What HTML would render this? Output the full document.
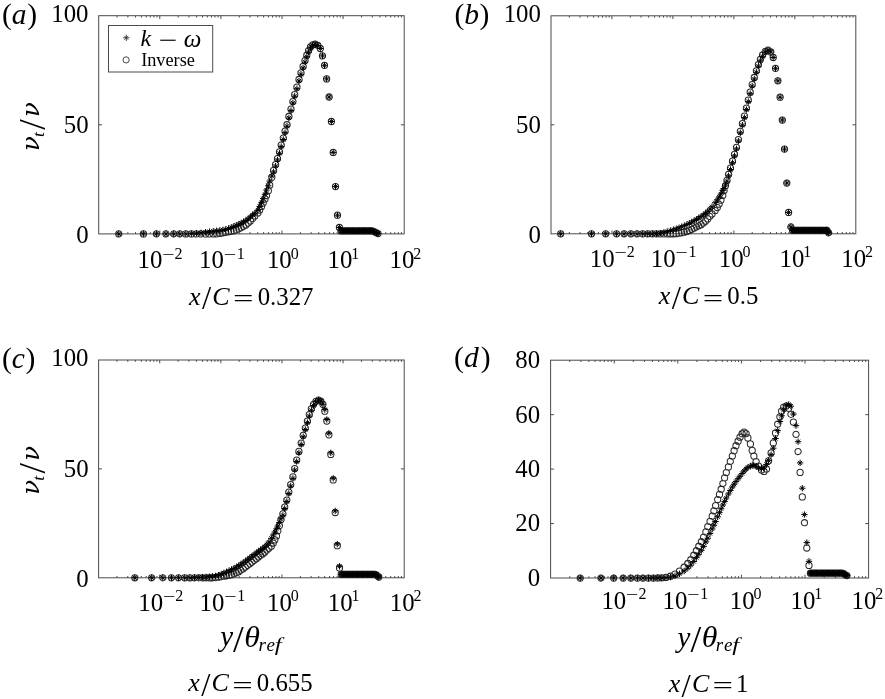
<!DOCTYPE html>
<html><head><meta charset="utf-8"><title>Eddy viscosity profiles</title>
<style>html,body{margin:0;padding:0;background:#fff;}svg{display:block;}text{font-family:'Liberation Serif', 'DejaVu Serif', serif;fill:#000;}</style>
</head><body>
<svg width="885" height="699" viewBox="0 0 885 699">
<rect width="885" height="699" fill="#fff"/>
<rect x="98.7" y="15.7" width="305.5" height="218.2" fill="none" stroke="#4a4a4a" stroke-width="1"/>
<path d="M117.09 233.9v-1.8M117.09 15.7v1.8M127.85 233.9v-1.8M127.85 15.7v1.8M135.49 233.9v-1.8M135.49 15.7v1.8M141.41 233.9v-1.8M141.41 15.7v1.8M146.25 233.9v-1.8M146.25 15.7v1.8M150.34 233.9v-1.8M150.34 15.7v1.8M153.88 233.9v-1.8M153.88 15.7v1.8M157 233.9v-1.8M157 15.7v1.8M159.8 233.9v-3.3M159.8 15.7v3.3M178.19 233.9v-1.8M178.19 15.7v1.8M188.95 233.9v-1.8M188.95 15.7v1.8M196.59 233.9v-1.8M196.59 15.7v1.8M202.51 233.9v-1.8M202.51 15.7v1.8M207.35 233.9v-1.8M207.35 15.7v1.8M211.44 233.9v-1.8M211.44 15.7v1.8M214.98 233.9v-1.8M214.98 15.7v1.8M218.1 233.9v-1.8M218.1 15.7v1.8M220.9 233.9v-3.3M220.9 15.7v3.3M239.29 233.9v-1.8M239.29 15.7v1.8M250.05 233.9v-1.8M250.05 15.7v1.8M257.69 233.9v-1.8M257.69 15.7v1.8M263.61 233.9v-1.8M263.61 15.7v1.8M268.45 233.9v-1.8M268.45 15.7v1.8M272.54 233.9v-1.8M272.54 15.7v1.8M276.08 233.9v-1.8M276.08 15.7v1.8M279.2 233.9v-1.8M279.2 15.7v1.8M282 233.9v-3.3M282 15.7v3.3M300.39 233.9v-1.8M300.39 15.7v1.8M311.15 233.9v-1.8M311.15 15.7v1.8M318.79 233.9v-1.8M318.79 15.7v1.8M324.71 233.9v-1.8M324.71 15.7v1.8M329.55 233.9v-1.8M329.55 15.7v1.8M333.64 233.9v-1.8M333.64 15.7v1.8M337.18 233.9v-1.8M337.18 15.7v1.8M340.3 233.9v-1.8M340.3 15.7v1.8M343.1 233.9v-3.3M343.1 15.7v3.3M361.49 233.9v-1.8M361.49 15.7v1.8M372.25 233.9v-1.8M372.25 15.7v1.8M379.89 233.9v-1.8M379.89 15.7v1.8M385.81 233.9v-1.8M385.81 15.7v1.8M390.65 233.9v-1.8M390.65 15.7v1.8M394.74 233.9v-1.8M394.74 15.7v1.8M398.28 233.9v-1.8M398.28 15.7v1.8M401.4 233.9v-1.8M401.4 15.7v1.8M98.7 124.8h3.3M404.2 124.8h-3.3" stroke="#4a4a4a" stroke-width="1" fill="none"/>
<rect x="551" y="15.8" width="304.8" height="218" fill="none" stroke="#4a4a4a" stroke-width="1"/>
<path d="M569.35 233.8v-1.8M569.35 15.8v1.8M580.09 233.8v-1.8M580.09 15.8v1.8M587.7 233.8v-1.8M587.7 15.8v1.8M593.61 233.8v-1.8M593.61 15.8v1.8M598.44 233.8v-1.8M598.44 15.8v1.8M602.52 233.8v-1.8M602.52 15.8v1.8M606.05 233.8v-1.8M606.05 15.8v1.8M609.17 233.8v-1.8M609.17 15.8v1.8M611.96 233.8v-3.3M611.96 15.8v3.3M630.31 233.8v-1.8M630.31 15.8v1.8M641.05 233.8v-1.8M641.05 15.8v1.8M648.66 233.8v-1.8M648.66 15.8v1.8M654.57 233.8v-1.8M654.57 15.8v1.8M659.4 233.8v-1.8M659.4 15.8v1.8M663.48 233.8v-1.8M663.48 15.8v1.8M667.01 233.8v-1.8M667.01 15.8v1.8M670.13 233.8v-1.8M670.13 15.8v1.8M672.92 233.8v-3.3M672.92 15.8v3.3M691.27 233.8v-1.8M691.27 15.8v1.8M702.01 233.8v-1.8M702.01 15.8v1.8M709.62 233.8v-1.8M709.62 15.8v1.8M715.53 233.8v-1.8M715.53 15.8v1.8M720.36 233.8v-1.8M720.36 15.8v1.8M724.44 233.8v-1.8M724.44 15.8v1.8M727.97 233.8v-1.8M727.97 15.8v1.8M731.09 233.8v-1.8M731.09 15.8v1.8M733.88 233.8v-3.3M733.88 15.8v3.3M752.23 233.8v-1.8M752.23 15.8v1.8M762.97 233.8v-1.8M762.97 15.8v1.8M770.58 233.8v-1.8M770.58 15.8v1.8M776.49 233.8v-1.8M776.49 15.8v1.8M781.32 233.8v-1.8M781.32 15.8v1.8M785.4 233.8v-1.8M785.4 15.8v1.8M788.93 233.8v-1.8M788.93 15.8v1.8M792.05 233.8v-1.8M792.05 15.8v1.8M794.84 233.8v-3.3M794.84 15.8v3.3M813.19 233.8v-1.8M813.19 15.8v1.8M823.93 233.8v-1.8M823.93 15.8v1.8M831.54 233.8v-1.8M831.54 15.8v1.8M837.45 233.8v-1.8M837.45 15.8v1.8M842.28 233.8v-1.8M842.28 15.8v1.8M846.36 233.8v-1.8M846.36 15.8v1.8M849.89 233.8v-1.8M849.89 15.8v1.8M853.01 233.8v-1.8M853.01 15.8v1.8M551 124.8h3.3M855.8 124.8h-3.3" stroke="#4a4a4a" stroke-width="1" fill="none"/>
<rect x="98.6" y="360" width="305.6" height="217.8" fill="none" stroke="#4a4a4a" stroke-width="1"/>
<path d="M117 577.8v-1.8M117 360v1.8M127.76 577.8v-1.8M127.76 360v1.8M135.4 577.8v-1.8M135.4 360v1.8M141.32 577.8v-1.8M141.32 360v1.8M146.16 577.8v-1.8M146.16 360v1.8M150.25 577.8v-1.8M150.25 360v1.8M153.8 577.8v-1.8M153.8 360v1.8M156.92 577.8v-1.8M156.92 360v1.8M159.72 577.8v-3.3M159.72 360v3.3M178.12 577.8v-1.8M178.12 360v1.8M188.88 577.8v-1.8M188.88 360v1.8M196.52 577.8v-1.8M196.52 360v1.8M202.44 577.8v-1.8M202.44 360v1.8M207.28 577.8v-1.8M207.28 360v1.8M211.37 577.8v-1.8M211.37 360v1.8M214.92 577.8v-1.8M214.92 360v1.8M218.04 577.8v-1.8M218.04 360v1.8M220.84 577.8v-3.3M220.84 360v3.3M239.24 577.8v-1.8M239.24 360v1.8M250 577.8v-1.8M250 360v1.8M257.64 577.8v-1.8M257.64 360v1.8M263.56 577.8v-1.8M263.56 360v1.8M268.4 577.8v-1.8M268.4 360v1.8M272.49 577.8v-1.8M272.49 360v1.8M276.04 577.8v-1.8M276.04 360v1.8M279.16 577.8v-1.8M279.16 360v1.8M281.96 577.8v-3.3M281.96 360v3.3M300.36 577.8v-1.8M300.36 360v1.8M311.12 577.8v-1.8M311.12 360v1.8M318.76 577.8v-1.8M318.76 360v1.8M324.68 577.8v-1.8M324.68 360v1.8M329.52 577.8v-1.8M329.52 360v1.8M333.61 577.8v-1.8M333.61 360v1.8M337.16 577.8v-1.8M337.16 360v1.8M340.28 577.8v-1.8M340.28 360v1.8M343.08 577.8v-3.3M343.08 360v3.3M361.48 577.8v-1.8M361.48 360v1.8M372.24 577.8v-1.8M372.24 360v1.8M379.88 577.8v-1.8M379.88 360v1.8M385.8 577.8v-1.8M385.8 360v1.8M390.64 577.8v-1.8M390.64 360v1.8M394.73 577.8v-1.8M394.73 360v1.8M398.28 577.8v-1.8M398.28 360v1.8M401.4 577.8v-1.8M401.4 360v1.8M98.6 468.9h3.3M404.2 468.9h-3.3" stroke="#4a4a4a" stroke-width="1" fill="none"/>
<rect x="550.6" y="360.2" width="318" height="217.8" fill="none" stroke="#4a4a4a" stroke-width="1"/>
<path d="M569.75 578v-1.8M569.75 360.2v1.8M580.94 578v-1.8M580.94 360.2v1.8M588.89 578v-1.8M588.89 360.2v1.8M595.05 578v-1.8M595.05 360.2v1.8M600.09 578v-1.8M600.09 360.2v1.8M604.35 578v-1.8M604.35 360.2v1.8M608.04 578v-1.8M608.04 360.2v1.8M611.29 578v-1.8M611.29 360.2v1.8M614.2 578v-3.3M614.2 360.2v3.3M633.35 578v-1.8M633.35 360.2v1.8M644.54 578v-1.8M644.54 360.2v1.8M652.49 578v-1.8M652.49 360.2v1.8M658.65 578v-1.8M658.65 360.2v1.8M663.69 578v-1.8M663.69 360.2v1.8M667.95 578v-1.8M667.95 360.2v1.8M671.64 578v-1.8M671.64 360.2v1.8M674.89 578v-1.8M674.89 360.2v1.8M677.8 578v-3.3M677.8 360.2v3.3M696.95 578v-1.8M696.95 360.2v1.8M708.14 578v-1.8M708.14 360.2v1.8M716.09 578v-1.8M716.09 360.2v1.8M722.25 578v-1.8M722.25 360.2v1.8M727.29 578v-1.8M727.29 360.2v1.8M731.55 578v-1.8M731.55 360.2v1.8M735.24 578v-1.8M735.24 360.2v1.8M738.49 578v-1.8M738.49 360.2v1.8M741.4 578v-3.3M741.4 360.2v3.3M760.55 578v-1.8M760.55 360.2v1.8M771.74 578v-1.8M771.74 360.2v1.8M779.69 578v-1.8M779.69 360.2v1.8M785.85 578v-1.8M785.85 360.2v1.8M790.89 578v-1.8M790.89 360.2v1.8M795.15 578v-1.8M795.15 360.2v1.8M798.84 578v-1.8M798.84 360.2v1.8M802.09 578v-1.8M802.09 360.2v1.8M805 578v-3.3M805 360.2v3.3M824.15 578v-1.8M824.15 360.2v1.8M835.34 578v-1.8M835.34 360.2v1.8M843.29 578v-1.8M843.29 360.2v1.8M849.45 578v-1.8M849.45 360.2v1.8M854.49 578v-1.8M854.49 360.2v1.8M858.75 578v-1.8M858.75 360.2v1.8M862.44 578v-1.8M862.44 360.2v1.8M865.69 578v-1.8M865.69 360.2v1.8M550.6 523.55h3.3M868.6 523.55h-3.3M550.6 469.1h3.3M868.6 469.1h-3.3M550.6 414.65h3.3M868.6 414.65h-3.3" stroke="#4a4a4a" stroke-width="1" fill="none"/>
<path d="M115.7 233.9a3.1 3.1 0 1 0 6.2 0a3.1 3.1 0 1 0 -6.2 0M140.3 233.9a3.1 3.1 0 1 0 6.2 0a3.1 3.1 0 1 0 -6.2 0M153.3 233.9a3.1 3.1 0 1 0 6.2 0a3.1 3.1 0 1 0 -6.2 0M162.9 233.9a3.1 3.1 0 1 0 6.2 0a3.1 3.1 0 1 0 -6.2 0M170.6 233.9a3.1 3.1 0 1 0 6.2 0a3.1 3.1 0 1 0 -6.2 0M176.7 233.9a3.1 3.1 0 1 0 6.2 0a3.1 3.1 0 1 0 -6.2 0M182.7 233.9a3.1 3.1 0 1 0 6.2 0a3.1 3.1 0 1 0 -6.2 0M188.3 233.9a3.1 3.1 0 1 0 6.2 0a3.1 3.1 0 1 0 -6.2 0M193.4 233.9a3.1 3.1 0 1 0 6.2 0a3.1 3.1 0 1 0 -6.2 0M197.9 233.9a3.1 3.1 0 1 0 6.2 0a3.1 3.1 0 1 0 -6.2 0M202.4 233.9a3.1 3.1 0 1 0 6.2 0a3.1 3.1 0 1 0 -6.2 0M206.43 233.9a3.1 3.1 0 1 0 6.2 0a3.1 3.1 0 1 0 -6.2 0M210.11 233.9a3.1 3.1 0 1 0 6.2 0a3.1 3.1 0 1 0 -6.2 0M213.52 233.82a3.1 3.1 0 1 0 6.2 0a3.1 3.1 0 1 0 -6.2 0M216.73 233.42a3.1 3.1 0 1 0 6.2 0a3.1 3.1 0 1 0 -6.2 0M219.76 232.99a3.1 3.1 0 1 0 6.2 0a3.1 3.1 0 1 0 -6.2 0M222.65 232.49a3.1 3.1 0 1 0 6.2 0a3.1 3.1 0 1 0 -6.2 0M225.43 231.98a3.1 3.1 0 1 0 6.2 0a3.1 3.1 0 1 0 -6.2 0M228.11 231.44a3.1 3.1 0 1 0 6.2 0a3.1 3.1 0 1 0 -6.2 0M230.71 230.77a3.1 3.1 0 1 0 6.2 0a3.1 3.1 0 1 0 -6.2 0M233.23 229.88a3.1 3.1 0 1 0 6.2 0a3.1 3.1 0 1 0 -6.2 0M235.69 228.88a3.1 3.1 0 1 0 6.2 0a3.1 3.1 0 1 0 -6.2 0M238.1 227.8a3.1 3.1 0 1 0 6.2 0a3.1 3.1 0 1 0 -6.2 0M240.46 226.56a3.1 3.1 0 1 0 6.2 0a3.1 3.1 0 1 0 -6.2 0M242.78 225.01a3.1 3.1 0 1 0 6.2 0a3.1 3.1 0 1 0 -6.2 0M245.06 223.13a3.1 3.1 0 1 0 6.2 0a3.1 3.1 0 1 0 -6.2 0M247.31 220.94a3.1 3.1 0 1 0 6.2 0a3.1 3.1 0 1 0 -6.2 0M249.53 218.6a3.1 3.1 0 1 0 6.2 0a3.1 3.1 0 1 0 -6.2 0M251.72 215.95a3.1 3.1 0 1 0 6.2 0a3.1 3.1 0 1 0 -6.2 0M254.8 213.18a3.1 3.1 0 1 0 6.2 0a3.1 3.1 0 1 0 -6.2 0M256.6 210.02a3.1 3.1 0 1 0 6.2 0a3.1 3.1 0 1 0 -6.2 0M258.4 206.41a3.1 3.1 0 1 0 6.2 0a3.1 3.1 0 1 0 -6.2 0M260.1 202.8a3.1 3.1 0 1 0 6.2 0a3.1 3.1 0 1 0 -6.2 0M261.9 198.94a3.1 3.1 0 1 0 6.2 0a3.1 3.1 0 1 0 -6.2 0M263.4 195.56a3.1 3.1 0 1 0 6.2 0a3.1 3.1 0 1 0 -6.2 0M265.2 190.66a3.1 3.1 0 1 0 6.2 0a3.1 3.1 0 1 0 -6.2 0M266.6 185.17a3.1 3.1 0 1 0 6.2 0a3.1 3.1 0 1 0 -6.2 0M268.7 177.13a3.1 3.1 0 1 0 6.2 0a3.1 3.1 0 1 0 -6.2 0M270.5 170.4a3.1 3.1 0 1 0 6.2 0a3.1 3.1 0 1 0 -6.2 0M272.5 164.6a3.1 3.1 0 1 0 6.2 0a3.1 3.1 0 1 0 -6.2 0M274.4 158.5a3.1 3.1 0 1 0 6.2 0a3.1 3.1 0 1 0 -6.2 0M276.4 151.8a3.1 3.1 0 1 0 6.2 0a3.1 3.1 0 1 0 -6.2 0M278.1 145.1a3.1 3.1 0 1 0 6.2 0a3.1 3.1 0 1 0 -6.2 0M280.2 138a3.1 3.1 0 1 0 6.2 0a3.1 3.1 0 1 0 -6.2 0M282 131.2a3.1 3.1 0 1 0 6.2 0a3.1 3.1 0 1 0 -6.2 0M283.9 124.7a3.1 3.1 0 1 0 6.2 0a3.1 3.1 0 1 0 -6.2 0M285.8 116.5a3.1 3.1 0 1 0 6.2 0a3.1 3.1 0 1 0 -6.2 0M287.9 109.1a3.1 3.1 0 1 0 6.2 0a3.1 3.1 0 1 0 -6.2 0M289.8 101.5a3.1 3.1 0 1 0 6.2 0a3.1 3.1 0 1 0 -6.2 0M291.6 94.7a3.1 3.1 0 1 0 6.2 0a3.1 3.1 0 1 0 -6.2 0M293.8 87.2a3.1 3.1 0 1 0 6.2 0a3.1 3.1 0 1 0 -6.2 0M295.9 79.5a3.1 3.1 0 1 0 6.2 0a3.1 3.1 0 1 0 -6.2 0M297.9 72.8a3.1 3.1 0 1 0 6.2 0a3.1 3.1 0 1 0 -6.2 0M300 66.4a3.1 3.1 0 1 0 6.2 0a3.1 3.1 0 1 0 -6.2 0M301.9 60.6a3.1 3.1 0 1 0 6.2 0a3.1 3.1 0 1 0 -6.2 0M303.7 55.2a3.1 3.1 0 1 0 6.2 0a3.1 3.1 0 1 0 -6.2 0M305.5 50.6a3.1 3.1 0 1 0 6.2 0a3.1 3.1 0 1 0 -6.2 0M307.4 47a3.1 3.1 0 1 0 6.2 0a3.1 3.1 0 1 0 -6.2 0M309.6 44.8a3.1 3.1 0 1 0 6.2 0a3.1 3.1 0 1 0 -6.2 0M312.1 44.2a3.1 3.1 0 1 0 6.2 0a3.1 3.1 0 1 0 -6.2 0M314.7 45.3a3.1 3.1 0 1 0 6.2 0a3.1 3.1 0 1 0 -6.2 0M317.2 48.5a3.1 3.1 0 1 0 6.2 0a3.1 3.1 0 1 0 -6.2 0M319.4 55.9a3.1 3.1 0 1 0 6.2 0a3.1 3.1 0 1 0 -6.2 0M321.4 65.3a3.1 3.1 0 1 0 6.2 0a3.1 3.1 0 1 0 -6.2 0M323.5 78.9a3.1 3.1 0 1 0 6.2 0a3.1 3.1 0 1 0 -6.2 0M326 97a3.1 3.1 0 1 0 6.2 0a3.1 3.1 0 1 0 -6.2 0M328.3 121.5a3.1 3.1 0 1 0 6.2 0a3.1 3.1 0 1 0 -6.2 0M330.1 152.4a3.1 3.1 0 1 0 6.2 0a3.1 3.1 0 1 0 -6.2 0M332.4 186.6a3.1 3.1 0 1 0 6.2 0a3.1 3.1 0 1 0 -6.2 0M334.4 215.2a3.1 3.1 0 1 0 6.2 0a3.1 3.1 0 1 0 -6.2 0M336.3 227.5a3.1 3.1 0 1 0 6.2 0a3.1 3.1 0 1 0 -6.2 0M337.9 230.9a3.1 3.1 0 1 0 6.2 0a3.1 3.1 0 1 0 -6.2 0M339.14 230.9a3.1 3.1 0 1 0 6.2 0a3.1 3.1 0 1 0 -6.2 0M340.38 230.9a3.1 3.1 0 1 0 6.2 0a3.1 3.1 0 1 0 -6.2 0M341.62 230.9a3.1 3.1 0 1 0 6.2 0a3.1 3.1 0 1 0 -6.2 0M342.86 230.9a3.1 3.1 0 1 0 6.2 0a3.1 3.1 0 1 0 -6.2 0M344.1 230.9a3.1 3.1 0 1 0 6.2 0a3.1 3.1 0 1 0 -6.2 0M345.34 230.9a3.1 3.1 0 1 0 6.2 0a3.1 3.1 0 1 0 -6.2 0M346.58 230.9a3.1 3.1 0 1 0 6.2 0a3.1 3.1 0 1 0 -6.2 0M347.82 230.9a3.1 3.1 0 1 0 6.2 0a3.1 3.1 0 1 0 -6.2 0M349.06 230.9a3.1 3.1 0 1 0 6.2 0a3.1 3.1 0 1 0 -6.2 0M350.3 230.9a3.1 3.1 0 1 0 6.2 0a3.1 3.1 0 1 0 -6.2 0M351.54 230.9a3.1 3.1 0 1 0 6.2 0a3.1 3.1 0 1 0 -6.2 0M352.78 230.9a3.1 3.1 0 1 0 6.2 0a3.1 3.1 0 1 0 -6.2 0M354.02 230.9a3.1 3.1 0 1 0 6.2 0a3.1 3.1 0 1 0 -6.2 0M355.26 230.9a3.1 3.1 0 1 0 6.2 0a3.1 3.1 0 1 0 -6.2 0M356.5 230.9a3.1 3.1 0 1 0 6.2 0a3.1 3.1 0 1 0 -6.2 0M357.74 230.9a3.1 3.1 0 1 0 6.2 0a3.1 3.1 0 1 0 -6.2 0M358.98 230.9a3.1 3.1 0 1 0 6.2 0a3.1 3.1 0 1 0 -6.2 0M360.22 230.9a3.1 3.1 0 1 0 6.2 0a3.1 3.1 0 1 0 -6.2 0M361.46 230.9a3.1 3.1 0 1 0 6.2 0a3.1 3.1 0 1 0 -6.2 0M362.7 230.9a3.1 3.1 0 1 0 6.2 0a3.1 3.1 0 1 0 -6.2 0M363.94 230.9a3.1 3.1 0 1 0 6.2 0a3.1 3.1 0 1 0 -6.2 0M365.18 230.9a3.1 3.1 0 1 0 6.2 0a3.1 3.1 0 1 0 -6.2 0M366.42 230.9a3.1 3.1 0 1 0 6.2 0a3.1 3.1 0 1 0 -6.2 0M367.66 230.9a3.1 3.1 0 1 0 6.2 0a3.1 3.1 0 1 0 -6.2 0M368.9 230.9a3.1 3.1 0 1 0 6.2 0a3.1 3.1 0 1 0 -6.2 0M370.4 231.3a3.1 3.1 0 1 0 6.2 0a3.1 3.1 0 1 0 -6.2 0M371.9 232a3.1 3.1 0 1 0 6.2 0a3.1 3.1 0 1 0 -6.2 0M373.4 232.8a3.1 3.1 0 1 0 6.2 0a3.1 3.1 0 1 0 -6.2 0M374.9 233.6a3.1 3.1 0 1 0 6.2 0a3.1 3.1 0 1 0 -6.2 0" fill="none" stroke="#2a2a2a" stroke-width="1.05"/>
<path d="M115.6 233.9h6.4M118.8 230.7v6.4M116.8 231.9l4 4M116.8 235.9l4 -4M140.2 233.9h6.4M143.4 230.7v6.4M141.4 231.9l4 4M141.4 235.9l4 -4M153.2 233.9h6.4M156.4 230.7v6.4M154.4 231.9l4 4M154.4 235.9l4 -4M162.8 233.9h6.4M166 230.7v6.4M164 231.9l4 4M164 235.9l4 -4M170.5 233.9h6.4M173.7 230.7v6.4M171.7 231.9l4 4M171.7 235.9l4 -4M176.6 233.9h6.4M179.8 230.7v6.4M177.8 231.9l4 4M177.8 235.9l4 -4M182.6 233.9h6.4M185.8 230.7v6.4M183.8 231.9l4 4M183.8 235.9l4 -4M188.2 233.68h6.4M191.4 230.48v6.4M189.4 231.68l4 4M189.4 235.68l4 -4M193.3 233.3h6.4M196.5 230.1v6.4M194.5 231.3l4 4M194.5 235.3l4 -4M197.8 232.9h6.4M201 229.7v6.4M199 230.9l4 4M199 234.9l4 -4M202.3 232.28h6.4M205.5 229.08v6.4M203.5 230.28l4 4M203.5 234.28l4 -4M206.33 231.66h6.4M209.53 228.46v6.4M207.53 229.66l4 4M207.53 233.66l4 -4M210.01 231.19h6.4M213.21 227.99v6.4M211.21 229.19l4 4M211.21 233.19l4 -4M213.42 230.76h6.4M216.62 227.56v6.4M214.62 228.76l4 4M214.62 232.76l4 -4M216.63 230.33h6.4M219.83 227.13v6.4M217.83 228.33l4 4M217.83 232.33l4 -4M219.66 229.89h6.4M222.86 226.69v6.4M220.86 227.89l4 4M220.86 231.89l4 -4M222.55 229.32h6.4M225.75 226.12v6.4M223.75 227.32l4 4M223.75 231.32l4 -4M225.33 228.46h6.4M228.53 225.26v6.4M226.53 226.46l4 4M226.53 230.46l4 -4M228.01 227.41h6.4M231.21 224.21v6.4M229.21 225.41l4 4M229.21 229.41l4 -4M230.61 226.31h6.4M233.81 223.11v6.4M231.81 224.31l4 4M231.81 228.31l4 -4M233.13 225.24h6.4M236.33 222.04v6.4M234.33 223.24l4 4M234.33 227.24l4 -4M235.59 224.18h6.4M238.79 220.98v6.4M236.79 222.18l4 4M236.79 226.18l4 -4M238 223.06h6.4M241.2 219.86v6.4M239.2 221.06l4 4M239.2 225.06l4 -4M240.36 221.83h6.4M243.56 218.63v6.4M241.56 219.83l4 4M241.56 223.83l4 -4M242.68 220.44h6.4M245.88 217.24v6.4M243.88 218.44l4 4M243.88 222.44l4 -4M244.96 218.74h6.4M248.16 215.54v6.4M246.16 216.74l4 4M246.16 220.74l4 -4M247.21 216.86h6.4M250.41 213.66v6.4M248.41 214.86l4 4M248.41 218.86l4 -4M249.43 214.98h6.4M252.63 211.78v6.4M250.63 212.98l4 4M250.63 216.98l4 -4M251.62 213.27h6.4M254.82 210.07v6.4M252.82 211.27l4 4M252.82 215.27l4 -4M254.7 210.1h6.4M257.9 206.9v6.4M255.9 208.1l4 4M255.9 212.1l4 -4M256.5 206.5h6.4M259.7 203.3v6.4M257.7 204.5l4 4M257.7 208.5l4 -4M258.3 202.6h6.4M261.5 199.4v6.4M259.5 200.6l4 4M259.5 204.6l4 -4M260 198.6h6.4M263.2 195.4v6.4M261.2 196.6l4 4M261.2 200.6l4 -4M261.8 194.3h6.4M265 191.1v6.4M263 192.3l4 4M263 196.3l4 -4M263.3 190.1h6.4M266.5 186.9v6.4M264.5 188.1l4 4M264.5 192.1l4 -4M265.1 185.8h6.4M268.3 182.6v6.4M266.3 183.8l4 4M266.3 187.8l4 -4M266.5 181.1h6.4M269.7 177.9v6.4M267.7 179.1l4 4M267.7 183.1l4 -4M268.6 176.1h6.4M271.8 172.9v6.4M269.8 174.1l4 4M269.8 178.1l4 -4M270.4 171.9h6.4M273.6 168.7v6.4M271.6 169.9l4 4M271.6 173.9l4 -4M272.4 166.1h6.4M275.6 162.9v6.4M273.6 164.1l4 4M273.6 168.1l4 -4M274.3 160h6.4M277.5 156.8v6.4M275.5 158l4 4M275.5 162l4 -4M276.3 153.3h6.4M279.5 150.1v6.4M277.5 151.3l4 4M277.5 155.3l4 -4M278 146.6h6.4M281.2 143.4v6.4M279.2 144.6l4 4M279.2 148.6l4 -4M280.1 139.5h6.4M283.3 136.3v6.4M281.3 137.5l4 4M281.3 141.5l4 -4M281.9 132.7h6.4M285.1 129.5v6.4M283.1 130.7l4 4M283.1 134.7l4 -4M283.8 126.2h6.4M287 123v6.4M285 124.2l4 4M285 128.2l4 -4M285.7 118h6.4M288.9 114.8v6.4M286.9 116l4 4M286.9 120l4 -4M287.8 110.6h6.4M291 107.4v6.4M289 108.6l4 4M289 112.6l4 -4M289.7 103h6.4M292.9 99.8v6.4M290.9 101l4 4M290.9 105l4 -4M291.5 96.2h6.4M294.7 93v6.4M292.7 94.2l4 4M292.7 98.2l4 -4M293.7 88.7h6.4M296.9 85.5v6.4M294.9 86.7l4 4M294.9 90.7l4 -4M295.8 81h6.4M299 77.8v6.4M297 79l4 4M297 83l4 -4M297.8 74.3h6.4M301 71.1v6.4M299 72.3l4 4M299 76.3l4 -4M299.9 67.9h6.4M303.1 64.7v6.4M301.1 65.9l4 4M301.1 69.9l4 -4M301.8 62.1h6.4M305 58.9v6.4M303 60.1l4 4M303 64.1l4 -4M303.6 56.7h6.4M306.8 53.5v6.4M304.8 54.7l4 4M304.8 58.7l4 -4M305.4 52.1h6.4M308.6 48.9v6.4M306.6 50.1l4 4M306.6 54.1l4 -4M307.3 48.17h6.4M310.5 44.97v6.4M308.5 46.17l4 4M308.5 50.17l4 -4M309.5 45.42h6.4M312.7 42.22v6.4M310.7 43.42l4 4M310.7 47.42l4 -4M312 44.2h6.4M315.2 41v6.4M313.2 42.2l4 4M313.2 46.2l4 -4M314.6 45.3h6.4M317.8 42.1v6.4M315.8 43.3l4 4M315.8 47.3l4 -4M317.1 48.5h6.4M320.3 45.3v6.4M318.3 46.5l4 4M318.3 50.5l4 -4M319.3 55.9h6.4M322.5 52.7v6.4M320.5 53.9l4 4M320.5 57.9l4 -4M321.3 65.3h6.4M324.5 62.1v6.4M322.5 63.3l4 4M322.5 67.3l4 -4M323.4 78.9h6.4M326.6 75.7v6.4M324.6 76.9l4 4M324.6 80.9l4 -4M325.9 97h6.4M329.1 93.8v6.4M327.1 95l4 4M327.1 99l4 -4M328.2 121.5h6.4M331.4 118.3v6.4M329.4 119.5l4 4M329.4 123.5l4 -4M330 152.4h6.4M333.2 149.2v6.4M331.2 150.4l4 4M331.2 154.4l4 -4M332.3 186.6h6.4M335.5 183.4v6.4M333.5 184.6l4 4M333.5 188.6l4 -4M334.3 215.2h6.4M337.5 212v6.4M335.5 213.2l4 4M335.5 217.2l4 -4M336.2 227.5h6.4M339.4 224.3v6.4M337.4 225.5l4 4M337.4 229.5l4 -4M337.8 230.9h6.4M341 227.7v6.4M339 228.9l4 4M339 232.9l4 -4M339.04 230.9h6.4M342.24 227.7v6.4M340.24 228.9l4 4M340.24 232.9l4 -4M340.28 230.9h6.4M343.48 227.7v6.4M341.48 228.9l4 4M341.48 232.9l4 -4M341.52 230.9h6.4M344.72 227.7v6.4M342.72 228.9l4 4M342.72 232.9l4 -4M342.76 230.9h6.4M345.96 227.7v6.4M343.96 228.9l4 4M343.96 232.9l4 -4M344 230.9h6.4M347.2 227.7v6.4M345.2 228.9l4 4M345.2 232.9l4 -4M345.24 230.9h6.4M348.44 227.7v6.4M346.44 228.9l4 4M346.44 232.9l4 -4M346.48 230.9h6.4M349.68 227.7v6.4M347.68 228.9l4 4M347.68 232.9l4 -4M347.72 230.9h6.4M350.92 227.7v6.4M348.92 228.9l4 4M348.92 232.9l4 -4M348.96 230.9h6.4M352.16 227.7v6.4M350.16 228.9l4 4M350.16 232.9l4 -4M350.2 230.9h6.4M353.4 227.7v6.4M351.4 228.9l4 4M351.4 232.9l4 -4M351.44 230.9h6.4M354.64 227.7v6.4M352.64 228.9l4 4M352.64 232.9l4 -4M352.68 230.9h6.4M355.88 227.7v6.4M353.88 228.9l4 4M353.88 232.9l4 -4M353.92 230.9h6.4M357.12 227.7v6.4M355.12 228.9l4 4M355.12 232.9l4 -4M355.16 230.9h6.4M358.36 227.7v6.4M356.36 228.9l4 4M356.36 232.9l4 -4M356.4 230.9h6.4M359.6 227.7v6.4M357.6 228.9l4 4M357.6 232.9l4 -4M357.64 230.9h6.4M360.84 227.7v6.4M358.84 228.9l4 4M358.84 232.9l4 -4M358.88 230.9h6.4M362.08 227.7v6.4M360.08 228.9l4 4M360.08 232.9l4 -4M360.12 230.9h6.4M363.32 227.7v6.4M361.32 228.9l4 4M361.32 232.9l4 -4M361.36 230.9h6.4M364.56 227.7v6.4M362.56 228.9l4 4M362.56 232.9l4 -4M362.6 230.9h6.4M365.8 227.7v6.4M363.8 228.9l4 4M363.8 232.9l4 -4M363.84 230.9h6.4M367.04 227.7v6.4M365.04 228.9l4 4M365.04 232.9l4 -4M365.08 230.9h6.4M368.28 227.7v6.4M366.28 228.9l4 4M366.28 232.9l4 -4M366.32 230.9h6.4M369.52 227.7v6.4M367.52 228.9l4 4M367.52 232.9l4 -4M367.56 230.9h6.4M370.76 227.7v6.4M368.76 228.9l4 4M368.76 232.9l4 -4M368.8 230.9h6.4M372 227.7v6.4M370 228.9l4 4M370 232.9l4 -4M370.3 231.3h6.4M373.5 228.1v6.4M371.5 229.3l4 4M371.5 233.3l4 -4M371.8 232h6.4M375 228.8v6.4M373 230l4 4M373 234l4 -4M373.3 232.8h6.4M376.5 229.6v6.4M374.5 230.8l4 4M374.5 234.8l4 -4M374.8 233.6h6.4M378 230.4v6.4M376 231.6l4 4M376 235.6l4 -4" fill="none" stroke="#000" stroke-width="1.0"/>
<path d="M557.6 233.8a3.1 3.1 0 1 0 6.2 0a3.1 3.1 0 1 0 -6.2 0M588.4 233.8a3.1 3.1 0 1 0 6.2 0a3.1 3.1 0 1 0 -6.2 0M602.6 233.8a3.1 3.1 0 1 0 6.2 0a3.1 3.1 0 1 0 -6.2 0M613.5 233.8a3.1 3.1 0 1 0 6.2 0a3.1 3.1 0 1 0 -6.2 0M621 233.8a3.1 3.1 0 1 0 6.2 0a3.1 3.1 0 1 0 -6.2 0M627.8 233.8a3.1 3.1 0 1 0 6.2 0a3.1 3.1 0 1 0 -6.2 0M634 233.8a3.1 3.1 0 1 0 6.2 0a3.1 3.1 0 1 0 -6.2 0M639.6 233.8a3.1 3.1 0 1 0 6.2 0a3.1 3.1 0 1 0 -6.2 0M644.6 233.8a3.1 3.1 0 1 0 6.2 0a3.1 3.1 0 1 0 -6.2 0M649.25 233.8a3.1 3.1 0 1 0 6.2 0a3.1 3.1 0 1 0 -6.2 0M653.42 233.8a3.1 3.1 0 1 0 6.2 0a3.1 3.1 0 1 0 -6.2 0M657.24 233.8a3.1 3.1 0 1 0 6.2 0a3.1 3.1 0 1 0 -6.2 0M660.79 233.8a3.1 3.1 0 1 0 6.2 0a3.1 3.1 0 1 0 -6.2 0M664.11 233.8a3.1 3.1 0 1 0 6.2 0a3.1 3.1 0 1 0 -6.2 0M667.26 233.8a3.1 3.1 0 1 0 6.2 0a3.1 3.1 0 1 0 -6.2 0M670.26 233.75a3.1 3.1 0 1 0 6.2 0a3.1 3.1 0 1 0 -6.2 0M673.14 233.64a3.1 3.1 0 1 0 6.2 0a3.1 3.1 0 1 0 -6.2 0M675.91 233.15a3.1 3.1 0 1 0 6.2 0a3.1 3.1 0 1 0 -6.2 0M678.59 232.63a3.1 3.1 0 1 0 6.2 0a3.1 3.1 0 1 0 -6.2 0M681.2 232.2a3.1 3.1 0 1 0 6.2 0a3.1 3.1 0 1 0 -6.2 0M683.74 231.46a3.1 3.1 0 1 0 6.2 0a3.1 3.1 0 1 0 -6.2 0M686.21 230.5a3.1 3.1 0 1 0 6.2 0a3.1 3.1 0 1 0 -6.2 0M688.64 229.3a3.1 3.1 0 1 0 6.2 0a3.1 3.1 0 1 0 -6.2 0M691.02 228.08a3.1 3.1 0 1 0 6.2 0a3.1 3.1 0 1 0 -6.2 0M693.36 226.87a3.1 3.1 0 1 0 6.2 0a3.1 3.1 0 1 0 -6.2 0M695.67 225.77a3.1 3.1 0 1 0 6.2 0a3.1 3.1 0 1 0 -6.2 0M697.94 224.67a3.1 3.1 0 1 0 6.2 0a3.1 3.1 0 1 0 -6.2 0M700.18 223.1a3.1 3.1 0 1 0 6.2 0a3.1 3.1 0 1 0 -6.2 0M702.4 221.13a3.1 3.1 0 1 0 6.2 0a3.1 3.1 0 1 0 -6.2 0M704.59 218.89a3.1 3.1 0 1 0 6.2 0a3.1 3.1 0 1 0 -6.2 0M706.76 216.45a3.1 3.1 0 1 0 6.2 0a3.1 3.1 0 1 0 -6.2 0M708.91 213.91a3.1 3.1 0 1 0 6.2 0a3.1 3.1 0 1 0 -6.2 0M712.1 210.5a3.1 3.1 0 1 0 6.2 0a3.1 3.1 0 1 0 -6.2 0M714.2 207.5a3.1 3.1 0 1 0 6.2 0a3.1 3.1 0 1 0 -6.2 0M716 204.2a3.1 3.1 0 1 0 6.2 0a3.1 3.1 0 1 0 -6.2 0M717.8 200.2a3.1 3.1 0 1 0 6.2 0a3.1 3.1 0 1 0 -6.2 0M719.6 195.4a3.1 3.1 0 1 0 6.2 0a3.1 3.1 0 1 0 -6.2 0M721 190.6a3.1 3.1 0 1 0 6.2 0a3.1 3.1 0 1 0 -6.2 0M722.4 185.5a3.1 3.1 0 1 0 6.2 0a3.1 3.1 0 1 0 -6.2 0M723.9 180.4a3.1 3.1 0 1 0 6.2 0a3.1 3.1 0 1 0 -6.2 0M725.5 174.3a3.1 3.1 0 1 0 6.2 0a3.1 3.1 0 1 0 -6.2 0M727.4 168a3.1 3.1 0 1 0 6.2 0a3.1 3.1 0 1 0 -6.2 0M729.4 161.2a3.1 3.1 0 1 0 6.2 0a3.1 3.1 0 1 0 -6.2 0M731.4 154.3a3.1 3.1 0 1 0 6.2 0a3.1 3.1 0 1 0 -6.2 0M733.4 147.4a3.1 3.1 0 1 0 6.2 0a3.1 3.1 0 1 0 -6.2 0M735.3 139.5a3.1 3.1 0 1 0 6.2 0a3.1 3.1 0 1 0 -6.2 0M737.2 131.3a3.1 3.1 0 1 0 6.2 0a3.1 3.1 0 1 0 -6.2 0M739.3 123.7a3.1 3.1 0 1 0 6.2 0a3.1 3.1 0 1 0 -6.2 0M741.3 116.1a3.1 3.1 0 1 0 6.2 0a3.1 3.1 0 1 0 -6.2 0M743.3 108a3.1 3.1 0 1 0 6.2 0a3.1 3.1 0 1 0 -6.2 0M745.2 100.1a3.1 3.1 0 1 0 6.2 0a3.1 3.1 0 1 0 -6.2 0M747.1 92.2a3.1 3.1 0 1 0 6.2 0a3.1 3.1 0 1 0 -6.2 0M749.1 84.6a3.1 3.1 0 1 0 6.2 0a3.1 3.1 0 1 0 -6.2 0M751.2 77.5a3.1 3.1 0 1 0 6.2 0a3.1 3.1 0 1 0 -6.2 0M753.3 70.8a3.1 3.1 0 1 0 6.2 0a3.1 3.1 0 1 0 -6.2 0M755.3 64.6a3.1 3.1 0 1 0 6.2 0a3.1 3.1 0 1 0 -6.2 0M757.3 59.3a3.1 3.1 0 1 0 6.2 0a3.1 3.1 0 1 0 -6.2 0M759.5 55a3.1 3.1 0 1 0 6.2 0a3.1 3.1 0 1 0 -6.2 0M762.1 51.5a3.1 3.1 0 1 0 6.2 0a3.1 3.1 0 1 0 -6.2 0M764.9 50.2a3.1 3.1 0 1 0 6.2 0a3.1 3.1 0 1 0 -6.2 0M767.7 52a3.1 3.1 0 1 0 6.2 0a3.1 3.1 0 1 0 -6.2 0M770.1 57.5a3.1 3.1 0 1 0 6.2 0a3.1 3.1 0 1 0 -6.2 0M772.4 68.3a3.1 3.1 0 1 0 6.2 0a3.1 3.1 0 1 0 -6.2 0M774.8 80.8a3.1 3.1 0 1 0 6.2 0a3.1 3.1 0 1 0 -6.2 0M777 97.2a3.1 3.1 0 1 0 6.2 0a3.1 3.1 0 1 0 -6.2 0M779.2 120a3.1 3.1 0 1 0 6.2 0a3.1 3.1 0 1 0 -6.2 0M781.4 149.1a3.1 3.1 0 1 0 6.2 0a3.1 3.1 0 1 0 -6.2 0M783.7 183a3.1 3.1 0 1 0 6.2 0a3.1 3.1 0 1 0 -6.2 0M785.5 212.4a3.1 3.1 0 1 0 6.2 0a3.1 3.1 0 1 0 -6.2 0M787.8 226.9a3.1 3.1 0 1 0 6.2 0a3.1 3.1 0 1 0 -6.2 0M789.5 230.4a3.1 3.1 0 1 0 6.2 0a3.1 3.1 0 1 0 -6.2 0M790.72 230.4a3.1 3.1 0 1 0 6.2 0a3.1 3.1 0 1 0 -6.2 0M791.94 230.4a3.1 3.1 0 1 0 6.2 0a3.1 3.1 0 1 0 -6.2 0M793.16 230.4a3.1 3.1 0 1 0 6.2 0a3.1 3.1 0 1 0 -6.2 0M794.37 230.4a3.1 3.1 0 1 0 6.2 0a3.1 3.1 0 1 0 -6.2 0M795.59 230.4a3.1 3.1 0 1 0 6.2 0a3.1 3.1 0 1 0 -6.2 0M796.81 230.4a3.1 3.1 0 1 0 6.2 0a3.1 3.1 0 1 0 -6.2 0M798.03 230.4a3.1 3.1 0 1 0 6.2 0a3.1 3.1 0 1 0 -6.2 0M799.25 230.4a3.1 3.1 0 1 0 6.2 0a3.1 3.1 0 1 0 -6.2 0M800.47 230.4a3.1 3.1 0 1 0 6.2 0a3.1 3.1 0 1 0 -6.2 0M801.69 230.4a3.1 3.1 0 1 0 6.2 0a3.1 3.1 0 1 0 -6.2 0M802.9 230.4a3.1 3.1 0 1 0 6.2 0a3.1 3.1 0 1 0 -6.2 0M804.12 230.4a3.1 3.1 0 1 0 6.2 0a3.1 3.1 0 1 0 -6.2 0M805.34 230.4a3.1 3.1 0 1 0 6.2 0a3.1 3.1 0 1 0 -6.2 0M806.56 230.4a3.1 3.1 0 1 0 6.2 0a3.1 3.1 0 1 0 -6.2 0M807.78 230.4a3.1 3.1 0 1 0 6.2 0a3.1 3.1 0 1 0 -6.2 0M809 230.4a3.1 3.1 0 1 0 6.2 0a3.1 3.1 0 1 0 -6.2 0M810.21 230.4a3.1 3.1 0 1 0 6.2 0a3.1 3.1 0 1 0 -6.2 0M811.43 230.4a3.1 3.1 0 1 0 6.2 0a3.1 3.1 0 1 0 -6.2 0M812.65 230.4a3.1 3.1 0 1 0 6.2 0a3.1 3.1 0 1 0 -6.2 0M813.87 230.4a3.1 3.1 0 1 0 6.2 0a3.1 3.1 0 1 0 -6.2 0M815.09 230.4a3.1 3.1 0 1 0 6.2 0a3.1 3.1 0 1 0 -6.2 0M816.31 230.4a3.1 3.1 0 1 0 6.2 0a3.1 3.1 0 1 0 -6.2 0M817.53 230.4a3.1 3.1 0 1 0 6.2 0a3.1 3.1 0 1 0 -6.2 0M818.74 230.4a3.1 3.1 0 1 0 6.2 0a3.1 3.1 0 1 0 -6.2 0M819.96 230.4a3.1 3.1 0 1 0 6.2 0a3.1 3.1 0 1 0 -6.2 0M821.18 230.4a3.1 3.1 0 1 0 6.2 0a3.1 3.1 0 1 0 -6.2 0M822.4 230.4a3.1 3.1 0 1 0 6.2 0a3.1 3.1 0 1 0 -6.2 0M823.5 230.2a3.1 3.1 0 1 0 6.2 0a3.1 3.1 0 1 0 -6.2 0M824.5 231.3a3.1 3.1 0 1 0 6.2 0a3.1 3.1 0 1 0 -6.2 0M825.6 232.8a3.1 3.1 0 1 0 6.2 0a3.1 3.1 0 1 0 -6.2 0" fill="none" stroke="#2a2a2a" stroke-width="1.05"/>
<path d="M557.5 233.8h6.4M560.7 230.6v6.4M558.7 231.8l4 4M558.7 235.8l4 -4M588.3 233.8h6.4M591.5 230.6v6.4M589.5 231.8l4 4M589.5 235.8l4 -4M602.5 233.8h6.4M605.7 230.6v6.4M603.7 231.8l4 4M603.7 235.8l4 -4M613.4 233.8h6.4M616.6 230.6v6.4M614.6 231.8l4 4M614.6 235.8l4 -4M620.9 233.8h6.4M624.1 230.6v6.4M622.1 231.8l4 4M622.1 235.8l4 -4M627.7 233.8h6.4M630.9 230.6v6.4M628.9 231.8l4 4M628.9 235.8l4 -4M633.9 233.8h6.4M637.1 230.6v6.4M635.1 231.8l4 4M635.1 235.8l4 -4M639.5 233.8h6.4M642.7 230.6v6.4M640.7 231.8l4 4M640.7 235.8l4 -4M644.5 233.8h6.4M647.7 230.6v6.4M645.7 231.8l4 4M645.7 235.8l4 -4M649.15 233.8h6.4M652.35 230.6v6.4M650.35 231.8l4 4M650.35 235.8l4 -4M653.32 233.72h6.4M656.52 230.52v6.4M654.52 231.72l4 4M654.52 235.72l4 -4M657.14 233.14h6.4M660.34 229.94v6.4M658.34 231.14l4 4M658.34 235.14l4 -4M660.69 232.39h6.4M663.89 229.19v6.4M661.89 230.39l4 4M661.89 234.39l4 -4M664.01 231.49h6.4M667.21 228.29v6.4M665.21 229.49l4 4M665.21 233.49l4 -4M667.16 230.6h6.4M670.36 227.4v6.4M668.36 228.6l4 4M668.36 232.6l4 -4M670.16 229.72h6.4M673.36 226.52v6.4M671.36 227.72l4 4M671.36 231.72l4 -4M673.04 228.82h6.4M676.24 225.62v6.4M674.24 226.82l4 4M674.24 230.82l4 -4M675.81 227.86h6.4M679.01 224.66v6.4M677.01 225.86l4 4M677.01 229.86l4 -4M678.49 226.84h6.4M681.69 223.64v6.4M679.69 224.84l4 4M679.69 228.84l4 -4M681.1 225.73h6.4M684.3 222.53v6.4M682.3 223.73l4 4M682.3 227.73l4 -4M683.64 224.56h6.4M686.84 221.36v6.4M684.84 222.56l4 4M684.84 226.56l4 -4M686.11 223.35h6.4M689.31 220.15v6.4M687.31 221.35l4 4M687.31 225.35l4 -4M688.54 222.09h6.4M691.74 218.89v6.4M689.74 220.09l4 4M689.74 224.09l4 -4M690.92 220.77h6.4M694.12 217.57v6.4M692.12 218.77l4 4M692.12 222.77l4 -4M693.26 219.39h6.4M696.46 216.19v6.4M694.46 217.39l4 4M694.46 221.39l4 -4M695.57 217.97h6.4M698.77 214.77v6.4M696.77 215.97l4 4M696.77 219.97l4 -4M697.84 216.55h6.4M701.04 213.35v6.4M699.04 214.55l4 4M699.04 218.55l4 -4M700.08 215.07h6.4M703.28 211.87v6.4M701.28 213.07l4 4M701.28 217.07l4 -4M702.3 213.39h6.4M705.5 210.19v6.4M703.5 211.39l4 4M703.5 215.39l4 -4M704.49 211.38h6.4M707.69 208.18v6.4M705.69 209.38l4 4M705.69 213.38l4 -4M706.66 209.15h6.4M709.86 205.95v6.4M707.86 207.15l4 4M707.86 211.15l4 -4M708.81 206.74h6.4M712.01 203.54v6.4M710.01 204.74l4 4M710.01 208.74l4 -4M712 202.74h6.4M715.2 199.54v6.4M713.2 200.74l4 4M713.2 204.74l4 -4M714.1 199.81h6.4M717.3 196.61v6.4M715.3 197.81l4 4M715.3 201.81l4 -4M715.9 197.04h6.4M719.1 193.84v6.4M717.1 195.04l4 4M717.1 199.04l4 -4M717.7 194h6.4M720.9 190.8v6.4M718.9 192l4 4M718.9 196l4 -4M719.5 190.41h6.4M722.7 187.21v6.4M720.7 188.41l4 4M720.7 192.41l4 -4M720.9 188.49h6.4M724.1 185.29v6.4M722.1 186.49l4 4M722.1 190.49l4 -4M722.3 185.11h6.4M725.5 181.91v6.4M723.5 183.11l4 4M723.5 187.11l4 -4M723.8 181.21h6.4M727 178.01v6.4M725 179.21l4 4M725 183.21l4 -4M725.4 175.8h6.4M728.6 172.6v6.4M726.6 173.8l4 4M726.6 177.8l4 -4M727.3 169.5h6.4M730.5 166.3v6.4M728.5 167.5l4 4M728.5 171.5l4 -4M729.3 162.7h6.4M732.5 159.5v6.4M730.5 160.7l4 4M730.5 164.7l4 -4M731.3 155.8h6.4M734.5 152.6v6.4M732.5 153.8l4 4M732.5 157.8l4 -4M733.3 148.9h6.4M736.5 145.7v6.4M734.5 146.9l4 4M734.5 150.9l4 -4M735.2 141h6.4M738.4 137.8v6.4M736.4 139l4 4M736.4 143l4 -4M737.1 132.8h6.4M740.3 129.6v6.4M738.3 130.8l4 4M738.3 134.8l4 -4M739.2 125.2h6.4M742.4 122v6.4M740.4 123.2l4 4M740.4 127.2l4 -4M741.2 117.6h6.4M744.4 114.4v6.4M742.4 115.6l4 4M742.4 119.6l4 -4M743.2 109.5h6.4M746.4 106.3v6.4M744.4 107.5l4 4M744.4 111.5l4 -4M745.1 101.6h6.4M748.3 98.4v6.4M746.3 99.6l4 4M746.3 103.6l4 -4M747 93.7h6.4M750.2 90.5v6.4M748.2 91.7l4 4M748.2 95.7l4 -4M749 86.1h6.4M752.2 82.9v6.4M750.2 84.1l4 4M750.2 88.1l4 -4M751.1 79h6.4M754.3 75.8v6.4M752.3 77l4 4M752.3 81l4 -4M753.2 72.3h6.4M756.4 69.1v6.4M754.4 70.3l4 4M754.4 74.3l4 -4M755.2 66.1h6.4M758.4 62.9v6.4M756.4 64.1l4 4M756.4 68.1l4 -4M757.2 60.8h6.4M760.4 57.6v6.4M758.4 58.8l4 4M758.4 62.8l4 -4M759.4 56.35h6.4M762.6 53.15v6.4M760.6 54.35l4 4M760.6 58.35l4 -4M762 52.2h6.4M765.2 49v6.4M763.2 50.2l4 4M763.2 54.2l4 -4M764.8 50.2h6.4M768 47v6.4M766 48.2l4 4M766 52.2l4 -4M767.6 52h6.4M770.8 48.8v6.4M768.8 50l4 4M768.8 54l4 -4M770 57.5h6.4M773.2 54.3v6.4M771.2 55.5l4 4M771.2 59.5l4 -4M772.3 68.3h6.4M775.5 65.1v6.4M773.5 66.3l4 4M773.5 70.3l4 -4M774.7 80.8h6.4M777.9 77.6v6.4M775.9 78.8l4 4M775.9 82.8l4 -4M776.9 97.2h6.4M780.1 94v6.4M778.1 95.2l4 4M778.1 99.2l4 -4M779.1 120h6.4M782.3 116.8v6.4M780.3 118l4 4M780.3 122l4 -4M781.3 149.1h6.4M784.5 145.9v6.4M782.5 147.1l4 4M782.5 151.1l4 -4M783.6 183h6.4M786.8 179.8v6.4M784.8 181l4 4M784.8 185l4 -4M785.4 212.4h6.4M788.6 209.2v6.4M786.6 210.4l4 4M786.6 214.4l4 -4M787.7 226.9h6.4M790.9 223.7v6.4M788.9 224.9l4 4M788.9 228.9l4 -4M789.4 230.4h6.4M792.6 227.2v6.4M790.6 228.4l4 4M790.6 232.4l4 -4M790.62 230.4h6.4M793.82 227.2v6.4M791.82 228.4l4 4M791.82 232.4l4 -4M791.84 230.4h6.4M795.04 227.2v6.4M793.04 228.4l4 4M793.04 232.4l4 -4M793.06 230.4h6.4M796.26 227.2v6.4M794.26 228.4l4 4M794.26 232.4l4 -4M794.27 230.4h6.4M797.47 227.2v6.4M795.47 228.4l4 4M795.47 232.4l4 -4M795.49 230.4h6.4M798.69 227.2v6.4M796.69 228.4l4 4M796.69 232.4l4 -4M796.71 230.4h6.4M799.91 227.2v6.4M797.91 228.4l4 4M797.91 232.4l4 -4M797.93 230.4h6.4M801.13 227.2v6.4M799.13 228.4l4 4M799.13 232.4l4 -4M799.15 230.4h6.4M802.35 227.2v6.4M800.35 228.4l4 4M800.35 232.4l4 -4M800.37 230.4h6.4M803.57 227.2v6.4M801.57 228.4l4 4M801.57 232.4l4 -4M801.59 230.4h6.4M804.79 227.2v6.4M802.79 228.4l4 4M802.79 232.4l4 -4M802.8 230.4h6.4M806 227.2v6.4M804 228.4l4 4M804 232.4l4 -4M804.02 230.4h6.4M807.22 227.2v6.4M805.22 228.4l4 4M805.22 232.4l4 -4M805.24 230.4h6.4M808.44 227.2v6.4M806.44 228.4l4 4M806.44 232.4l4 -4M806.46 230.4h6.4M809.66 227.2v6.4M807.66 228.4l4 4M807.66 232.4l4 -4M807.68 230.4h6.4M810.88 227.2v6.4M808.88 228.4l4 4M808.88 232.4l4 -4M808.9 230.4h6.4M812.1 227.2v6.4M810.1 228.4l4 4M810.1 232.4l4 -4M810.11 230.4h6.4M813.31 227.2v6.4M811.31 228.4l4 4M811.31 232.4l4 -4M811.33 230.4h6.4M814.53 227.2v6.4M812.53 228.4l4 4M812.53 232.4l4 -4M812.55 230.4h6.4M815.75 227.2v6.4M813.75 228.4l4 4M813.75 232.4l4 -4M813.77 230.4h6.4M816.97 227.2v6.4M814.97 228.4l4 4M814.97 232.4l4 -4M814.99 230.4h6.4M818.19 227.2v6.4M816.19 228.4l4 4M816.19 232.4l4 -4M816.21 230.4h6.4M819.41 227.2v6.4M817.41 228.4l4 4M817.41 232.4l4 -4M817.43 230.4h6.4M820.63 227.2v6.4M818.63 228.4l4 4M818.63 232.4l4 -4M818.64 230.4h6.4M821.84 227.2v6.4M819.84 228.4l4 4M819.84 232.4l4 -4M819.86 230.4h6.4M823.06 227.2v6.4M821.06 228.4l4 4M821.06 232.4l4 -4M821.08 230.4h6.4M824.28 227.2v6.4M822.28 228.4l4 4M822.28 232.4l4 -4M822.3 230.4h6.4M825.5 227.2v6.4M823.5 228.4l4 4M823.5 232.4l4 -4M823.4 230.2h6.4M826.6 227v6.4M824.6 228.2l4 4M824.6 232.2l4 -4M824.4 231.3h6.4M827.6 228.1v6.4M825.6 229.3l4 4M825.6 233.3l4 -4M825.5 232.8h6.4M828.7 229.6v6.4M826.7 230.8l4 4M826.7 234.8l4 -4" fill="none" stroke="#000" stroke-width="1.0"/>
<path d="M131.7 577.8a3.1 3.1 0 1 0 6.2 0a3.1 3.1 0 1 0 -6.2 0M148.6 577.8a3.1 3.1 0 1 0 6.2 0a3.1 3.1 0 1 0 -6.2 0M159.7 577.8a3.1 3.1 0 1 0 6.2 0a3.1 3.1 0 1 0 -6.2 0M168.4 577.8a3.1 3.1 0 1 0 6.2 0a3.1 3.1 0 1 0 -6.2 0M175.5 577.8a3.1 3.1 0 1 0 6.2 0a3.1 3.1 0 1 0 -6.2 0M181.6 577.8a3.1 3.1 0 1 0 6.2 0a3.1 3.1 0 1 0 -6.2 0M186.8 577.8a3.1 3.1 0 1 0 6.2 0a3.1 3.1 0 1 0 -6.2 0M191.45 577.8a3.1 3.1 0 1 0 6.2 0a3.1 3.1 0 1 0 -6.2 0M195.62 577.8a3.1 3.1 0 1 0 6.2 0a3.1 3.1 0 1 0 -6.2 0M199.44 577.8a3.1 3.1 0 1 0 6.2 0a3.1 3.1 0 1 0 -6.2 0M202.99 577.8a3.1 3.1 0 1 0 6.2 0a3.1 3.1 0 1 0 -6.2 0M206.31 577.8a3.1 3.1 0 1 0 6.2 0a3.1 3.1 0 1 0 -6.2 0M209.46 577.79a3.1 3.1 0 1 0 6.2 0a3.1 3.1 0 1 0 -6.2 0M212.46 577.57a3.1 3.1 0 1 0 6.2 0a3.1 3.1 0 1 0 -6.2 0M215.34 577.15a3.1 3.1 0 1 0 6.2 0a3.1 3.1 0 1 0 -6.2 0M218.11 576.66a3.1 3.1 0 1 0 6.2 0a3.1 3.1 0 1 0 -6.2 0M220.79 576.23a3.1 3.1 0 1 0 6.2 0a3.1 3.1 0 1 0 -6.2 0M223.4 575.82a3.1 3.1 0 1 0 6.2 0a3.1 3.1 0 1 0 -6.2 0M225.94 575.36a3.1 3.1 0 1 0 6.2 0a3.1 3.1 0 1 0 -6.2 0M228.41 574.74a3.1 3.1 0 1 0 6.2 0a3.1 3.1 0 1 0 -6.2 0M230.84 573.86a3.1 3.1 0 1 0 6.2 0a3.1 3.1 0 1 0 -6.2 0M233.22 572.83a3.1 3.1 0 1 0 6.2 0a3.1 3.1 0 1 0 -6.2 0M235.56 571.66a3.1 3.1 0 1 0 6.2 0a3.1 3.1 0 1 0 -6.2 0M237.87 570.3a3.1 3.1 0 1 0 6.2 0a3.1 3.1 0 1 0 -6.2 0M240.14 568.85a3.1 3.1 0 1 0 6.2 0a3.1 3.1 0 1 0 -6.2 0M242.38 567.22a3.1 3.1 0 1 0 6.2 0a3.1 3.1 0 1 0 -6.2 0M244.6 565.53a3.1 3.1 0 1 0 6.2 0a3.1 3.1 0 1 0 -6.2 0M246.79 563.87a3.1 3.1 0 1 0 6.2 0a3.1 3.1 0 1 0 -6.2 0M248.96 562.21a3.1 3.1 0 1 0 6.2 0a3.1 3.1 0 1 0 -6.2 0M251.11 560.51a3.1 3.1 0 1 0 6.2 0a3.1 3.1 0 1 0 -6.2 0M253.25 558.75a3.1 3.1 0 1 0 6.2 0a3.1 3.1 0 1 0 -6.2 0M255.37 556.91a3.1 3.1 0 1 0 6.2 0a3.1 3.1 0 1 0 -6.2 0M257.47 555.3a3.1 3.1 0 1 0 6.2 0a3.1 3.1 0 1 0 -6.2 0M259.57 553.88a3.1 3.1 0 1 0 6.2 0a3.1 3.1 0 1 0 -6.2 0M261.65 552.13a3.1 3.1 0 1 0 6.2 0a3.1 3.1 0 1 0 -6.2 0M263.72 550.12a3.1 3.1 0 1 0 6.2 0a3.1 3.1 0 1 0 -6.2 0M265.77 548.35a3.1 3.1 0 1 0 6.2 0a3.1 3.1 0 1 0 -6.2 0M268.2 546.2a3.1 3.1 0 1 0 6.2 0a3.1 3.1 0 1 0 -6.2 0M270.2 543a3.1 3.1 0 1 0 6.2 0a3.1 3.1 0 1 0 -6.2 0M271.8 539.8a3.1 3.1 0 1 0 6.2 0a3.1 3.1 0 1 0 -6.2 0M273.4 535.9a3.1 3.1 0 1 0 6.2 0a3.1 3.1 0 1 0 -6.2 0M274.7 530.8a3.1 3.1 0 1 0 6.2 0a3.1 3.1 0 1 0 -6.2 0M276.3 525.6a3.1 3.1 0 1 0 6.2 0a3.1 3.1 0 1 0 -6.2 0M277.9 519.5a3.1 3.1 0 1 0 6.2 0a3.1 3.1 0 1 0 -6.2 0M279.8 513.8a3.1 3.1 0 1 0 6.2 0a3.1 3.1 0 1 0 -6.2 0M281.6 507a3.1 3.1 0 1 0 6.2 0a3.1 3.1 0 1 0 -6.2 0M283.7 500a3.1 3.1 0 1 0 6.2 0a3.1 3.1 0 1 0 -6.2 0M285.7 492a3.1 3.1 0 1 0 6.2 0a3.1 3.1 0 1 0 -6.2 0M287.6 484.6a3.1 3.1 0 1 0 6.2 0a3.1 3.1 0 1 0 -6.2 0M289.8 476.9a3.1 3.1 0 1 0 6.2 0a3.1 3.1 0 1 0 -6.2 0M291.6 468.6a3.1 3.1 0 1 0 6.2 0a3.1 3.1 0 1 0 -6.2 0M293.6 460a3.1 3.1 0 1 0 6.2 0a3.1 3.1 0 1 0 -6.2 0M295.8 451.4a3.1 3.1 0 1 0 6.2 0a3.1 3.1 0 1 0 -6.2 0M298.1 443a3.1 3.1 0 1 0 6.2 0a3.1 3.1 0 1 0 -6.2 0M300.1 435.3a3.1 3.1 0 1 0 6.2 0a3.1 3.1 0 1 0 -6.2 0M302.2 428a3.1 3.1 0 1 0 6.2 0a3.1 3.1 0 1 0 -6.2 0M304.3 421.1a3.1 3.1 0 1 0 6.2 0a3.1 3.1 0 1 0 -6.2 0M306.2 414.6a3.1 3.1 0 1 0 6.2 0a3.1 3.1 0 1 0 -6.2 0M308.3 408.8a3.1 3.1 0 1 0 6.2 0a3.1 3.1 0 1 0 -6.2 0M310.5 404.3a3.1 3.1 0 1 0 6.2 0a3.1 3.1 0 1 0 -6.2 0M312.9 401.3a3.1 3.1 0 1 0 6.2 0a3.1 3.1 0 1 0 -6.2 0M315.4 400a3.1 3.1 0 1 0 6.2 0a3.1 3.1 0 1 0 -6.2 0M317.7 401a3.1 3.1 0 1 0 6.2 0a3.1 3.1 0 1 0 -6.2 0M319.8 404.3a3.1 3.1 0 1 0 6.2 0a3.1 3.1 0 1 0 -6.2 0M321.7 411.2a3.1 3.1 0 1 0 6.2 0a3.1 3.1 0 1 0 -6.2 0M323.7 421.1a3.1 3.1 0 1 0 6.2 0a3.1 3.1 0 1 0 -6.2 0M325.8 434.8a3.1 3.1 0 1 0 6.2 0a3.1 3.1 0 1 0 -6.2 0M327.7 454.4a3.1 3.1 0 1 0 6.2 0a3.1 3.1 0 1 0 -6.2 0M330.1 479.9a3.1 3.1 0 1 0 6.2 0a3.1 3.1 0 1 0 -6.2 0M332.1 512.5a3.1 3.1 0 1 0 6.2 0a3.1 3.1 0 1 0 -6.2 0M334.2 545.7a3.1 3.1 0 1 0 6.2 0a3.1 3.1 0 1 0 -6.2 0M336.4 567.9a3.1 3.1 0 1 0 6.2 0a3.1 3.1 0 1 0 -6.2 0M338.1 574.4a3.1 3.1 0 1 0 6.2 0a3.1 3.1 0 1 0 -6.2 0M339.35 574.4a3.1 3.1 0 1 0 6.2 0a3.1 3.1 0 1 0 -6.2 0M340.6 574.4a3.1 3.1 0 1 0 6.2 0a3.1 3.1 0 1 0 -6.2 0M341.86 574.4a3.1 3.1 0 1 0 6.2 0a3.1 3.1 0 1 0 -6.2 0M343.11 574.4a3.1 3.1 0 1 0 6.2 0a3.1 3.1 0 1 0 -6.2 0M344.36 574.4a3.1 3.1 0 1 0 6.2 0a3.1 3.1 0 1 0 -6.2 0M345.61 574.4a3.1 3.1 0 1 0 6.2 0a3.1 3.1 0 1 0 -6.2 0M346.86 574.4a3.1 3.1 0 1 0 6.2 0a3.1 3.1 0 1 0 -6.2 0M348.11 574.4a3.1 3.1 0 1 0 6.2 0a3.1 3.1 0 1 0 -6.2 0M349.37 574.4a3.1 3.1 0 1 0 6.2 0a3.1 3.1 0 1 0 -6.2 0M350.62 574.4a3.1 3.1 0 1 0 6.2 0a3.1 3.1 0 1 0 -6.2 0M351.87 574.4a3.1 3.1 0 1 0 6.2 0a3.1 3.1 0 1 0 -6.2 0M353.12 574.4a3.1 3.1 0 1 0 6.2 0a3.1 3.1 0 1 0 -6.2 0M354.37 574.4a3.1 3.1 0 1 0 6.2 0a3.1 3.1 0 1 0 -6.2 0M355.63 574.4a3.1 3.1 0 1 0 6.2 0a3.1 3.1 0 1 0 -6.2 0M356.88 574.4a3.1 3.1 0 1 0 6.2 0a3.1 3.1 0 1 0 -6.2 0M358.13 574.4a3.1 3.1 0 1 0 6.2 0a3.1 3.1 0 1 0 -6.2 0M359.38 574.4a3.1 3.1 0 1 0 6.2 0a3.1 3.1 0 1 0 -6.2 0M360.63 574.4a3.1 3.1 0 1 0 6.2 0a3.1 3.1 0 1 0 -6.2 0M361.89 574.4a3.1 3.1 0 1 0 6.2 0a3.1 3.1 0 1 0 -6.2 0M363.14 574.4a3.1 3.1 0 1 0 6.2 0a3.1 3.1 0 1 0 -6.2 0M364.39 574.4a3.1 3.1 0 1 0 6.2 0a3.1 3.1 0 1 0 -6.2 0M365.64 574.4a3.1 3.1 0 1 0 6.2 0a3.1 3.1 0 1 0 -6.2 0M366.89 574.4a3.1 3.1 0 1 0 6.2 0a3.1 3.1 0 1 0 -6.2 0M368.14 574.4a3.1 3.1 0 1 0 6.2 0a3.1 3.1 0 1 0 -6.2 0M369.4 574.4a3.1 3.1 0 1 0 6.2 0a3.1 3.1 0 1 0 -6.2 0M370.65 574.4a3.1 3.1 0 1 0 6.2 0a3.1 3.1 0 1 0 -6.2 0M371.9 574.4a3.1 3.1 0 1 0 6.2 0a3.1 3.1 0 1 0 -6.2 0M373.2 574.8a3.1 3.1 0 1 0 6.2 0a3.1 3.1 0 1 0 -6.2 0M374.5 576a3.1 3.1 0 1 0 6.2 0a3.1 3.1 0 1 0 -6.2 0M375.7 577a3.1 3.1 0 1 0 6.2 0a3.1 3.1 0 1 0 -6.2 0" fill="none" stroke="#2a2a2a" stroke-width="1.05"/>
<path d="M131.6 577.8h6.4M134.8 574.6v6.4M132.8 575.8l4 4M132.8 579.8l4 -4M148.5 577.8h6.4M151.7 574.6v6.4M149.7 575.8l4 4M149.7 579.8l4 -4M159.6 577.8h6.4M162.8 574.6v6.4M160.8 575.8l4 4M160.8 579.8l4 -4M168.3 577.8h6.4M171.5 574.6v6.4M169.5 575.8l4 4M169.5 579.8l4 -4M175.4 577.8h6.4M178.6 574.6v6.4M176.6 575.8l4 4M176.6 579.8l4 -4M181.5 577.8h6.4M184.7 574.6v6.4M182.7 575.8l4 4M182.7 579.8l4 -4M186.7 577.8h6.4M189.9 574.6v6.4M187.9 575.8l4 4M187.9 579.8l4 -4M191.35 577.65h6.4M194.55 574.45v6.4M192.55 575.65l4 4M192.55 579.65l4 -4M195.52 577.38h6.4M198.72 574.18v6.4M196.72 575.38l4 4M196.72 579.38l4 -4M199.34 577.14h6.4M202.54 573.94v6.4M200.54 575.14l4 4M200.54 579.14l4 -4M202.89 576.91h6.4M206.09 573.71v6.4M204.09 574.91l4 4M204.09 578.91l4 -4M206.21 576.64h6.4M209.41 573.44v6.4M207.41 574.64l4 4M207.41 578.64l4 -4M209.36 576.32h6.4M212.56 573.12v6.4M210.56 574.32l4 4M210.56 578.32l4 -4M212.36 575.91h6.4M215.56 572.71v6.4M213.56 573.91l4 4M213.56 577.91l4 -4M215.24 575.14h6.4M218.44 571.94v6.4M216.44 573.14l4 4M216.44 577.14l4 -4M218.01 574.08h6.4M221.21 570.88v6.4M219.21 572.08l4 4M219.21 576.08l4 -4M220.69 572.95h6.4M223.89 569.75v6.4M221.89 570.95l4 4M221.89 574.95l4 -4M223.3 571.88h6.4M226.5 568.68v6.4M224.5 569.88l4 4M224.5 573.88l4 -4M225.84 570.77h6.4M229.04 567.57v6.4M227.04 568.77l4 4M227.04 572.77l4 -4M228.31 569.6h6.4M231.51 566.4v6.4M229.51 567.6l4 4M229.51 571.6l4 -4M230.74 568.36h6.4M233.94 565.16v6.4M231.94 566.36l4 4M231.94 570.36l4 -4M233.12 567.06h6.4M236.32 563.86v6.4M234.32 565.06l4 4M234.32 569.06l4 -4M235.46 565.65h6.4M238.66 562.45v6.4M236.66 563.65l4 4M236.66 567.65l4 -4M237.77 564.16h6.4M240.97 560.96v6.4M238.97 562.16l4 4M238.97 566.16l4 -4M240.04 562.64h6.4M243.24 559.44v6.4M241.24 560.64l4 4M241.24 564.64l4 -4M242.28 561.05h6.4M245.48 557.85v6.4M243.48 559.05l4 4M243.48 563.05l4 -4M244.5 559.41h6.4M247.7 556.21v6.4M245.7 557.41l4 4M245.7 561.41l4 -4M246.69 557.76h6.4M249.89 554.56v6.4M247.89 555.76l4 4M247.89 559.76l4 -4M248.86 556.13h6.4M252.06 552.93v6.4M250.06 554.13l4 4M250.06 558.13l4 -4M251.01 554.49h6.4M254.21 551.29v6.4M252.21 552.49l4 4M252.21 556.49l4 -4M253.15 552.86h6.4M256.35 549.66v6.4M254.35 550.86l4 4M254.35 554.86l4 -4M255.27 551.25h6.4M258.47 548.05v6.4M256.47 549.25l4 4M256.47 553.25l4 -4M257.37 549.76h6.4M260.57 546.56v6.4M258.57 547.76l4 4M258.57 551.76l4 -4M259.47 548.36h6.4M262.67 545.16v6.4M260.67 546.36l4 4M260.67 550.36l4 -4M261.55 546.81h6.4M264.75 543.61v6.4M262.75 544.81l4 4M262.75 548.81l4 -4M263.62 544.82h6.4M266.82 541.62v6.4M264.82 542.82l4 4M264.82 546.82l4 -4M265.67 542.06h6.4M268.87 538.86v6.4M266.87 540.06l4 4M266.87 544.06l4 -4M268.1 538.34h6.4M271.3 535.14v6.4M269.3 536.34l4 4M269.3 540.34l4 -4M270.1 534.9h6.4M273.3 531.7v6.4M271.3 532.9l4 4M271.3 536.9l4 -4M271.7 532h6.4M274.9 528.8v6.4M272.9 530l4 4M272.9 534l4 -4M273.3 528.89h6.4M276.5 525.69v6.4M274.5 526.89l4 4M274.5 530.89l4 -4M274.6 526.09h6.4M277.8 522.89v6.4M275.8 524.09l4 4M275.8 528.09l4 -4M276.2 522.51h6.4M279.4 519.31v6.4M277.4 520.51l4 4M277.4 524.51l4 -4M277.8 518.76h6.4M281 515.56v6.4M279 516.76l4 4M279 520.76l4 -4M279.7 515.3h6.4M282.9 512.1v6.4M280.9 513.3l4 4M280.9 517.3l4 -4M281.5 508.5h6.4M284.7 505.3v6.4M282.7 506.5l4 4M282.7 510.5l4 -4M283.6 501.5h6.4M286.8 498.3v6.4M284.8 499.5l4 4M284.8 503.5l4 -4M285.6 493.5h6.4M288.8 490.3v6.4M286.8 491.5l4 4M286.8 495.5l4 -4M287.5 486.1h6.4M290.7 482.9v6.4M288.7 484.1l4 4M288.7 488.1l4 -4M289.7 478.4h6.4M292.9 475.2v6.4M290.9 476.4l4 4M290.9 480.4l4 -4M291.5 470.1h6.4M294.7 466.9v6.4M292.7 468.1l4 4M292.7 472.1l4 -4M293.5 461.5h6.4M296.7 458.3v6.4M294.7 459.5l4 4M294.7 463.5l4 -4M295.7 452.9h6.4M298.9 449.7v6.4M296.9 450.9l4 4M296.9 454.9l4 -4M298 444.5h6.4M301.2 441.3v6.4M299.2 442.5l4 4M299.2 446.5l4 -4M300 436.8h6.4M303.2 433.6v6.4M301.2 434.8l4 4M301.2 438.8l4 -4M302.1 429.5h6.4M305.3 426.3v6.4M303.3 427.5l4 4M303.3 431.5l4 -4M304.2 422.6h6.4M307.4 419.4v6.4M305.4 420.6l4 4M305.4 424.6l4 -4M306.1 416.1h6.4M309.3 412.9v6.4M307.3 414.1l4 4M307.3 418.1l4 -4M308.2 410.3h6.4M311.4 407.1v6.4M309.4 408.3l4 4M309.4 412.3l4 -4M310.4 405.52h6.4M313.6 402.32v6.4M311.6 403.52l4 4M311.6 407.52l4 -4M312.8 401.93h6.4M316 398.73v6.4M314 399.93l4 4M314 403.93l4 -4M315.3 400h6.4M318.5 396.8v6.4M316.5 398l4 4M316.5 402l4 -4M317.6 401h6.4M320.8 397.8v6.4M318.8 399l4 4M318.8 403l4 -4M319.7 404.3h6.4M322.9 401.1v6.4M320.9 402.3l4 4M320.9 406.3l4 -4M321.6 409.6h6.4M324.8 406.4v6.4M322.8 407.6l4 4M322.8 411.6l4 -4M323.6 419.5h6.4M326.8 416.3v6.4M324.8 417.5l4 4M324.8 421.5l4 -4M325.7 433.2h6.4M328.9 430v6.4M326.9 431.2l4 4M326.9 435.2l4 -4M327.6 452.8h6.4M330.8 449.6v6.4M328.8 450.8l4 4M328.8 454.8l4 -4M330 478.3h6.4M333.2 475.1v6.4M331.2 476.3l4 4M331.2 480.3l4 -4M332 510.9h6.4M335.2 507.7v6.4M333.2 508.9l4 4M333.2 512.9l4 -4M334.1 544.1h6.4M337.3 540.9v6.4M335.3 542.1l4 4M335.3 546.1l4 -4M336.3 566.3h6.4M339.5 563.1v6.4M337.5 564.3l4 4M337.5 568.3l4 -4M338 574.4h6.4M341.2 571.2v6.4M339.2 572.4l4 4M339.2 576.4l4 -4M339.25 574.4h6.4M342.45 571.2v6.4M340.45 572.4l4 4M340.45 576.4l4 -4M340.5 574.4h6.4M343.7 571.2v6.4M341.7 572.4l4 4M341.7 576.4l4 -4M341.76 574.4h6.4M344.96 571.2v6.4M342.96 572.4l4 4M342.96 576.4l4 -4M343.01 574.4h6.4M346.21 571.2v6.4M344.21 572.4l4 4M344.21 576.4l4 -4M344.26 574.4h6.4M347.46 571.2v6.4M345.46 572.4l4 4M345.46 576.4l4 -4M345.51 574.4h6.4M348.71 571.2v6.4M346.71 572.4l4 4M346.71 576.4l4 -4M346.76 574.4h6.4M349.96 571.2v6.4M347.96 572.4l4 4M347.96 576.4l4 -4M348.01 574.4h6.4M351.21 571.2v6.4M349.21 572.4l4 4M349.21 576.4l4 -4M349.27 574.4h6.4M352.47 571.2v6.4M350.47 572.4l4 4M350.47 576.4l4 -4M350.52 574.4h6.4M353.72 571.2v6.4M351.72 572.4l4 4M351.72 576.4l4 -4M351.77 574.4h6.4M354.97 571.2v6.4M352.97 572.4l4 4M352.97 576.4l4 -4M353.02 574.4h6.4M356.22 571.2v6.4M354.22 572.4l4 4M354.22 576.4l4 -4M354.27 574.4h6.4M357.47 571.2v6.4M355.47 572.4l4 4M355.47 576.4l4 -4M355.53 574.4h6.4M358.73 571.2v6.4M356.73 572.4l4 4M356.73 576.4l4 -4M356.78 574.4h6.4M359.98 571.2v6.4M357.98 572.4l4 4M357.98 576.4l4 -4M358.03 574.4h6.4M361.23 571.2v6.4M359.23 572.4l4 4M359.23 576.4l4 -4M359.28 574.4h6.4M362.48 571.2v6.4M360.48 572.4l4 4M360.48 576.4l4 -4M360.53 574.4h6.4M363.73 571.2v6.4M361.73 572.4l4 4M361.73 576.4l4 -4M361.79 574.4h6.4M364.99 571.2v6.4M362.99 572.4l4 4M362.99 576.4l4 -4M363.04 574.4h6.4M366.24 571.2v6.4M364.24 572.4l4 4M364.24 576.4l4 -4M364.29 574.4h6.4M367.49 571.2v6.4M365.49 572.4l4 4M365.49 576.4l4 -4M365.54 574.4h6.4M368.74 571.2v6.4M366.74 572.4l4 4M366.74 576.4l4 -4M366.79 574.4h6.4M369.99 571.2v6.4M367.99 572.4l4 4M367.99 576.4l4 -4M368.04 574.4h6.4M371.24 571.2v6.4M369.24 572.4l4 4M369.24 576.4l4 -4M369.3 574.4h6.4M372.5 571.2v6.4M370.5 572.4l4 4M370.5 576.4l4 -4M370.55 574.4h6.4M373.75 571.2v6.4M371.75 572.4l4 4M371.75 576.4l4 -4M371.8 574.4h6.4M375 571.2v6.4M373 572.4l4 4M373 576.4l4 -4M373.1 574.8h6.4M376.3 571.6v6.4M374.3 572.8l4 4M374.3 576.8l4 -4M374.4 576h6.4M377.6 572.8v6.4M375.6 574l4 4M375.6 578l4 -4M375.6 577h6.4M378.8 573.8v6.4M376.8 575l4 4M376.8 579l4 -4" fill="none" stroke="#000" stroke-width="1.0"/>
<path d="M577.1 578a3.1 3.1 0 1 0 6.2 0a3.1 3.1 0 1 0 -6.2 0M597.9 578a3.1 3.1 0 1 0 6.2 0a3.1 3.1 0 1 0 -6.2 0M610.6 578a3.1 3.1 0 1 0 6.2 0a3.1 3.1 0 1 0 -6.2 0M620.1 578a3.1 3.1 0 1 0 6.2 0a3.1 3.1 0 1 0 -6.2 0M627.7 578a3.1 3.1 0 1 0 6.2 0a3.1 3.1 0 1 0 -6.2 0M634.3 578a3.1 3.1 0 1 0 6.2 0a3.1 3.1 0 1 0 -6.2 0M639.9 578a3.1 3.1 0 1 0 6.2 0a3.1 3.1 0 1 0 -6.2 0M645.4 578a3.1 3.1 0 1 0 6.2 0a3.1 3.1 0 1 0 -6.2 0M650.3 578a3.1 3.1 0 1 0 6.2 0a3.1 3.1 0 1 0 -6.2 0M654.68 577.96a3.1 3.1 0 1 0 6.2 0a3.1 3.1 0 1 0 -6.2 0M658.68 577.76a3.1 3.1 0 1 0 6.2 0a3.1 3.1 0 1 0 -6.2 0M662.9 577.4a3.1 3.1 0 1 0 6.2 0a3.1 3.1 0 1 0 -6.2 0M667.4 576.2a3.1 3.1 0 1 0 6.2 0a3.1 3.1 0 1 0 -6.2 0M671.9 574a3.1 3.1 0 1 0 6.2 0a3.1 3.1 0 1 0 -6.2 0M676.4 571a3.1 3.1 0 1 0 6.2 0a3.1 3.1 0 1 0 -6.2 0M681 567.2a3.1 3.1 0 1 0 6.2 0a3.1 3.1 0 1 0 -6.2 0M684.7 563.5a3.1 3.1 0 1 0 6.2 0a3.1 3.1 0 1 0 -6.2 0M687.7 559.7a3.1 3.1 0 1 0 6.2 0a3.1 3.1 0 1 0 -6.2 0M690.7 555.2a3.1 3.1 0 1 0 6.2 0a3.1 3.1 0 1 0 -6.2 0M693.3 550.7a3.1 3.1 0 1 0 6.2 0a3.1 3.1 0 1 0 -6.2 0M695.7 546.2a3.1 3.1 0 1 0 6.2 0a3.1 3.1 0 1 0 -6.2 0M698.3 541.7a3.1 3.1 0 1 0 6.2 0a3.1 3.1 0 1 0 -6.2 0M700.5 537.1a3.1 3.1 0 1 0 6.2 0a3.1 3.1 0 1 0 -6.2 0M702.8 531.9a3.1 3.1 0 1 0 6.2 0a3.1 3.1 0 1 0 -6.2 0M704.7 526.6a3.1 3.1 0 1 0 6.2 0a3.1 3.1 0 1 0 -6.2 0M707 521.4a3.1 3.1 0 1 0 6.2 0a3.1 3.1 0 1 0 -6.2 0M709.1 516.1a3.1 3.1 0 1 0 6.2 0a3.1 3.1 0 1 0 -6.2 0M710.8 510.8a3.1 3.1 0 1 0 6.2 0a3.1 3.1 0 1 0 -6.2 0M712.5 505.6a3.1 3.1 0 1 0 6.2 0a3.1 3.1 0 1 0 -6.2 0M714.6 499.5a3.1 3.1 0 1 0 6.2 0a3.1 3.1 0 1 0 -6.2 0M716.4 494.4a3.1 3.1 0 1 0 6.2 0a3.1 3.1 0 1 0 -6.2 0M718.1 489.2a3.1 3.1 0 1 0 6.2 0a3.1 3.1 0 1 0 -6.2 0M719.8 483.5a3.1 3.1 0 1 0 6.2 0a3.1 3.1 0 1 0 -6.2 0M721.5 477.8a3.1 3.1 0 1 0 6.2 0a3.1 3.1 0 1 0 -6.2 0M723.2 472.6a3.1 3.1 0 1 0 6.2 0a3.1 3.1 0 1 0 -6.2 0M725.3 466.9a3.1 3.1 0 1 0 6.2 0a3.1 3.1 0 1 0 -6.2 0M727.2 461.4a3.1 3.1 0 1 0 6.2 0a3.1 3.1 0 1 0 -6.2 0M729.2 456a3.1 3.1 0 1 0 6.2 0a3.1 3.1 0 1 0 -6.2 0M731 450.7a3.1 3.1 0 1 0 6.2 0a3.1 3.1 0 1 0 -6.2 0M732.9 445.7a3.1 3.1 0 1 0 6.2 0a3.1 3.1 0 1 0 -6.2 0M735 441.2a3.1 3.1 0 1 0 6.2 0a3.1 3.1 0 1 0 -6.2 0M736.9 437.2a3.1 3.1 0 1 0 6.2 0a3.1 3.1 0 1 0 -6.2 0M739 433.7a3.1 3.1 0 1 0 6.2 0a3.1 3.1 0 1 0 -6.2 0M741 432a3.1 3.1 0 1 0 6.2 0a3.1 3.1 0 1 0 -6.2 0M743 433.6a3.1 3.1 0 1 0 6.2 0a3.1 3.1 0 1 0 -6.2 0M744.8 437.9a3.1 3.1 0 1 0 6.2 0a3.1 3.1 0 1 0 -6.2 0M747.3 443.9a3.1 3.1 0 1 0 6.2 0a3.1 3.1 0 1 0 -6.2 0M749.1 450.4a3.1 3.1 0 1 0 6.2 0a3.1 3.1 0 1 0 -6.2 0M750.8 456.1a3.1 3.1 0 1 0 6.2 0a3.1 3.1 0 1 0 -6.2 0M753 461.5a3.1 3.1 0 1 0 6.2 0a3.1 3.1 0 1 0 -6.2 0M755.5 466.1a3.1 3.1 0 1 0 6.2 0a3.1 3.1 0 1 0 -6.2 0M758.4 470a3.1 3.1 0 1 0 6.2 0a3.1 3.1 0 1 0 -6.2 0M760.9 471.5a3.1 3.1 0 1 0 6.2 0a3.1 3.1 0 1 0 -6.2 0M763.4 469a3.1 3.1 0 1 0 6.2 0a3.1 3.1 0 1 0 -6.2 0M765.5 460.8a3.1 3.1 0 1 0 6.2 0a3.1 3.1 0 1 0 -6.2 0M768 452.9a3.1 3.1 0 1 0 6.2 0a3.1 3.1 0 1 0 -6.2 0M770.2 442.9a3.1 3.1 0 1 0 6.2 0a3.1 3.1 0 1 0 -6.2 0M772.4 432.9a3.1 3.1 0 1 0 6.2 0a3.1 3.1 0 1 0 -6.2 0M774.6 424a3.1 3.1 0 1 0 6.2 0a3.1 3.1 0 1 0 -6.2 0M776.8 416.8a3.1 3.1 0 1 0 6.2 0a3.1 3.1 0 1 0 -6.2 0M778.5 411.1a3.1 3.1 0 1 0 6.2 0a3.1 3.1 0 1 0 -6.2 0M780.6 407a3.1 3.1 0 1 0 6.2 0a3.1 3.1 0 1 0 -6.2 0M783.1 406a3.1 3.1 0 1 0 6.2 0a3.1 3.1 0 1 0 -6.2 0M785.6 408.3a3.1 3.1 0 1 0 6.2 0a3.1 3.1 0 1 0 -6.2 0M787.8 414.3a3.1 3.1 0 1 0 6.2 0a3.1 3.1 0 1 0 -6.2 0M790.3 422.1a3.1 3.1 0 1 0 6.2 0a3.1 3.1 0 1 0 -6.2 0M792.9 434.4a3.1 3.1 0 1 0 6.2 0a3.1 3.1 0 1 0 -6.2 0M795 451.5a3.1 3.1 0 1 0 6.2 0a3.1 3.1 0 1 0 -6.2 0M797 472.4a3.1 3.1 0 1 0 6.2 0a3.1 3.1 0 1 0 -6.2 0M799.2 496.9a3.1 3.1 0 1 0 6.2 0a3.1 3.1 0 1 0 -6.2 0M801.3 522.7a3.1 3.1 0 1 0 6.2 0a3.1 3.1 0 1 0 -6.2 0M803.7 548a3.1 3.1 0 1 0 6.2 0a3.1 3.1 0 1 0 -6.2 0M805.9 565.4a3.1 3.1 0 1 0 6.2 0a3.1 3.1 0 1 0 -6.2 0M807.3 573.2a3.1 3.1 0 1 0 6.2 0a3.1 3.1 0 1 0 -6.2 0M808.52 573.2a3.1 3.1 0 1 0 6.2 0a3.1 3.1 0 1 0 -6.2 0M809.73 573.2a3.1 3.1 0 1 0 6.2 0a3.1 3.1 0 1 0 -6.2 0M810.95 573.2a3.1 3.1 0 1 0 6.2 0a3.1 3.1 0 1 0 -6.2 0M812.16 573.2a3.1 3.1 0 1 0 6.2 0a3.1 3.1 0 1 0 -6.2 0M813.38 573.2a3.1 3.1 0 1 0 6.2 0a3.1 3.1 0 1 0 -6.2 0M814.59 573.2a3.1 3.1 0 1 0 6.2 0a3.1 3.1 0 1 0 -6.2 0M815.81 573.2a3.1 3.1 0 1 0 6.2 0a3.1 3.1 0 1 0 -6.2 0M817.02 573.2a3.1 3.1 0 1 0 6.2 0a3.1 3.1 0 1 0 -6.2 0M818.24 573.2a3.1 3.1 0 1 0 6.2 0a3.1 3.1 0 1 0 -6.2 0M819.45 573.2a3.1 3.1 0 1 0 6.2 0a3.1 3.1 0 1 0 -6.2 0M820.67 573.2a3.1 3.1 0 1 0 6.2 0a3.1 3.1 0 1 0 -6.2 0M821.88 573.2a3.1 3.1 0 1 0 6.2 0a3.1 3.1 0 1 0 -6.2 0M823.1 573.2a3.1 3.1 0 1 0 6.2 0a3.1 3.1 0 1 0 -6.2 0M824.32 573.2a3.1 3.1 0 1 0 6.2 0a3.1 3.1 0 1 0 -6.2 0M825.53 573.2a3.1 3.1 0 1 0 6.2 0a3.1 3.1 0 1 0 -6.2 0M826.75 573.2a3.1 3.1 0 1 0 6.2 0a3.1 3.1 0 1 0 -6.2 0M827.96 573.2a3.1 3.1 0 1 0 6.2 0a3.1 3.1 0 1 0 -6.2 0M829.18 573.2a3.1 3.1 0 1 0 6.2 0a3.1 3.1 0 1 0 -6.2 0M830.39 573.2a3.1 3.1 0 1 0 6.2 0a3.1 3.1 0 1 0 -6.2 0M831.61 573.2a3.1 3.1 0 1 0 6.2 0a3.1 3.1 0 1 0 -6.2 0M832.82 573.2a3.1 3.1 0 1 0 6.2 0a3.1 3.1 0 1 0 -6.2 0M834.04 573.2a3.1 3.1 0 1 0 6.2 0a3.1 3.1 0 1 0 -6.2 0M835.25 573.2a3.1 3.1 0 1 0 6.2 0a3.1 3.1 0 1 0 -6.2 0M836.47 573.2a3.1 3.1 0 1 0 6.2 0a3.1 3.1 0 1 0 -6.2 0M837.68 573.2a3.1 3.1 0 1 0 6.2 0a3.1 3.1 0 1 0 -6.2 0M838.9 573.2a3.1 3.1 0 1 0 6.2 0a3.1 3.1 0 1 0 -6.2 0M840.2 573.5a3.1 3.1 0 1 0 6.2 0a3.1 3.1 0 1 0 -6.2 0M841.5 574.2a3.1 3.1 0 1 0 6.2 0a3.1 3.1 0 1 0 -6.2 0M842.8 575a3.1 3.1 0 1 0 6.2 0a3.1 3.1 0 1 0 -6.2 0M843.9 575.6a3.1 3.1 0 1 0 6.2 0a3.1 3.1 0 1 0 -6.2 0" fill="none" stroke="#2a2a2a" stroke-width="1.05"/>
<path d="M577 578h6.4M580.2 574.8v6.4M578.2 576l4 4M578.2 580l4 -4M597.8 578h6.4M601 574.8v6.4M599 576l4 4M599 580l4 -4M610.5 578h6.4M613.7 574.8v6.4M611.7 576l4 4M611.7 580l4 -4M620 578h6.4M623.2 574.8v6.4M621.2 576l4 4M621.2 580l4 -4M627.6 578h6.4M630.8 574.8v6.4M628.8 576l4 4M628.8 580l4 -4M634.2 578h6.4M637.4 574.8v6.4M635.4 576l4 4M635.4 580l4 -4M639.8 578h6.4M643 574.8v6.4M641 576l4 4M641 580l4 -4M645.3 578h6.4M648.5 574.8v6.4M646.5 576l4 4M646.5 580l4 -4M650.2 578h6.4M653.4 574.8v6.4M651.4 576l4 4M651.4 580l4 -4M654.58 577.98h6.4M657.78 574.78v6.4M655.78 575.98l4 4M655.78 579.98l4 -4M658.58 577.88h6.4M661.78 574.68v6.4M659.78 575.88l4 4M659.78 579.88l4 -4M662.8 577.7h6.4M666 574.5v6.4M664 575.7l4 4M664 579.7l4 -4M667.3 577.07h6.4M670.5 573.87v6.4M668.5 575.07l4 4M668.5 579.07l4 -4M671.8 575.89h6.4M675 572.69v6.4M673 573.89l4 4M673 577.89l4 -4M676.3 573.81h6.4M679.5 570.61v6.4M677.5 571.81l4 4M677.5 575.81l4 -4M680.9 571.05h6.4M684.1 567.85v6.4M682.1 569.05l4 4M682.1 573.05l4 -4M684.6 568.2h6.4M687.8 565v6.4M685.8 566.2l4 4M685.8 570.2l4 -4M687.6 565.18h6.4M690.8 561.98v6.4M688.8 563.18l4 4M688.8 567.18l4 -4M690.6 561.47h6.4M693.8 558.27v6.4M691.8 559.47l4 4M691.8 563.47l4 -4M693.2 557.64h6.4M696.4 554.44v6.4M694.4 555.64l4 4M694.4 559.64l4 -4M695.6 554.22h6.4M698.8 551.02v6.4M696.8 552.22l4 4M696.8 556.22l4 -4M698.2 550.3h6.4M701.4 547.1v6.4M699.4 548.3l4 4M699.4 552.3l4 -4M700.4 546.41h6.4M703.6 543.21v6.4M701.6 544.41l4 4M701.6 548.41l4 -4M702.7 541.98h6.4M705.9 538.78v6.4M703.9 539.98l4 4M703.9 543.98l4 -4M704.6 538.2h6.4M707.8 535v6.4M705.8 536.2l4 4M705.8 540.2l4 -4M706.9 533.43h6.4M710.1 530.23v6.4M708.1 531.43l4 4M708.1 535.43l4 -4M709 528.96h6.4M712.2 525.76v6.4M710.2 526.96l4 4M710.2 530.96l4 -4M710.7 525.26h6.4M713.9 522.06v6.4M711.9 523.26l4 4M711.9 527.26l4 -4M712.4 521.5h6.4M715.6 518.3v6.4M713.6 519.5l4 4M713.6 523.5l4 -4M714.5 516.8h6.4M717.7 513.6v6.4M715.7 514.8l4 4M715.7 518.8l4 -4M716.3 512.67h6.4M719.5 509.47v6.4M717.5 510.67l4 4M717.5 514.67l4 -4M718 508.74h6.4M721.2 505.54v6.4M719.2 506.74l4 4M719.2 510.74l4 -4M719.7 504.99h6.4M722.9 501.79v6.4M720.9 502.99l4 4M720.9 506.99l4 -4M721.4 501.43h6.4M724.6 498.23v6.4M722.6 499.43l4 4M722.6 503.43l4 -4M723.1 498h6.4M726.3 494.8v6.4M724.3 496l4 4M724.3 500l4 -4M725.2 493.97h6.4M728.4 490.77v6.4M726.4 491.97l4 4M726.4 495.97l4 -4M727.1 490.48h6.4M730.3 487.28v6.4M728.3 488.48l4 4M728.3 492.48l4 -4M729.1 487h6.4M732.3 483.8v6.4M730.3 485l4 4M730.3 489l4 -4M730.9 484.15h6.4M734.1 480.95v6.4M732.1 482.15l4 4M732.1 486.15l4 -4M732.8 481.45h6.4M736 478.25v6.4M734 479.45l4 4M734 483.45l4 -4M734.9 478.69h6.4M738.1 475.49v6.4M736.1 476.69l4 4M736.1 480.69l4 -4M736.8 476.25h6.4M740 473.05v6.4M738 474.25l4 4M738 478.25l4 -4M738.9 473.51h6.4M742.1 470.31v6.4M740.1 471.51l4 4M740.1 475.51l4 -4M740.9 471.07h6.4M744.1 467.87v6.4M742.1 469.07l4 4M742.1 473.07l4 -4M742.9 469.01h6.4M746.1 465.81v6.4M744.1 467.01l4 4M744.1 471.01l4 -4M744.7 467.35h6.4M747.9 464.15v6.4M745.9 465.35l4 4M745.9 469.35l4 -4M747.2 466.08h6.4M750.4 462.88v6.4M748.4 464.08l4 4M748.4 468.08l4 -4M749 465.55h6.4M752.2 462.35v6.4M750.2 463.55l4 4M750.2 467.55l4 -4M750.7 465.42h6.4M753.9 462.22v6.4M751.9 463.42l4 4M751.9 467.42l4 -4M752.9 466.4h6.4M756.1 463.2v6.4M754.1 464.4l4 4M754.1 468.4l4 -4M755.4 467.79h6.4M758.6 464.59v6.4M756.6 465.79l4 4M756.6 469.79l4 -4M758.3 468.49h6.4M761.5 465.29v6.4M759.5 466.49l4 4M759.5 470.49l4 -4M760.8 467.2h6.4M764 464v6.4M762 465.2l4 4M762 469.2l4 -4M763.3 464.4h6.4M766.5 461.2v6.4M764.5 462.4l4 4M764.5 466.4l4 -4M765.4 460.64h6.4M768.6 457.44v6.4M766.6 458.64l4 4M766.6 462.64l4 -4M767.9 454.64h6.4M771.1 451.44v6.4M769.1 452.64l4 4M769.1 456.64l4 -4M770.1 448.2h6.4M773.3 445v6.4M771.3 446.2l4 4M771.3 450.2l4 -4M772.3 438.51h6.4M775.5 435.31v6.4M773.5 436.51l4 4M773.5 440.51l4 -4M774.5 430.6h6.4M777.7 427.4v6.4M775.7 428.6l4 4M775.7 432.6l4 -4M776.7 421.5h6.4M779.9 418.3v6.4M777.9 419.5l4 4M777.9 423.5l4 -4M778.4 415.78h6.4M781.6 412.58v6.4M779.6 413.78l4 4M779.6 417.78l4 -4M780.5 409.89h6.4M783.7 406.69v6.4M781.7 407.89l4 4M781.7 411.89l4 -4M783 405.38h6.4M786.2 402.18v6.4M784.2 403.38l4 4M784.2 407.38l4 -4M785.5 404.41h6.4M788.7 401.21v6.4M786.7 402.41l4 4M786.7 406.41l4 -4M787.7 406.17h6.4M790.9 402.97v6.4M788.9 404.17l4 4M788.9 408.17l4 -4M790.2 414h6.4M793.4 410.8v6.4M791.4 412l4 4M791.4 416l4 -4M792.8 425.6h6.4M796 422.4v6.4M794 423.6l4 4M794 427.6l4 -4M794.9 441.7h6.4M798.1 438.5v6.4M796.1 439.7l4 4M796.1 443.7l4 -4M796.9 462.9h6.4M800.1 459.7v6.4M798.1 460.9l4 4M798.1 464.9l4 -4M799.1 488.2h6.4M802.3 485v6.4M800.3 486.2l4 4M800.3 490.2l4 -4M801.2 514.6h6.4M804.4 511.4v6.4M802.4 512.6l4 4M802.4 516.6l4 -4M803.6 542.6h6.4M806.8 539.4v6.4M804.8 540.6l4 4M804.8 544.6l4 -4M805.8 561.3h6.4M809 558.1v6.4M807 559.3l4 4M807 563.3l4 -4M807.2 573.2h6.4M810.4 570v6.4M808.4 571.2l4 4M808.4 575.2l4 -4M808.42 573.2h6.4M811.62 570v6.4M809.62 571.2l4 4M809.62 575.2l4 -4M809.63 573.2h6.4M812.83 570v6.4M810.83 571.2l4 4M810.83 575.2l4 -4M810.85 573.2h6.4M814.05 570v6.4M812.05 571.2l4 4M812.05 575.2l4 -4M812.06 573.2h6.4M815.26 570v6.4M813.26 571.2l4 4M813.26 575.2l4 -4M813.28 573.2h6.4M816.48 570v6.4M814.48 571.2l4 4M814.48 575.2l4 -4M814.49 573.2h6.4M817.69 570v6.4M815.69 571.2l4 4M815.69 575.2l4 -4M815.71 573.2h6.4M818.91 570v6.4M816.91 571.2l4 4M816.91 575.2l4 -4M816.92 573.2h6.4M820.12 570v6.4M818.12 571.2l4 4M818.12 575.2l4 -4M818.14 573.2h6.4M821.34 570v6.4M819.34 571.2l4 4M819.34 575.2l4 -4M819.35 573.2h6.4M822.55 570v6.4M820.55 571.2l4 4M820.55 575.2l4 -4M820.57 573.2h6.4M823.77 570v6.4M821.77 571.2l4 4M821.77 575.2l4 -4M821.78 573.2h6.4M824.98 570v6.4M822.98 571.2l4 4M822.98 575.2l4 -4M823 573.2h6.4M826.2 570v6.4M824.2 571.2l4 4M824.2 575.2l4 -4M824.22 573.2h6.4M827.42 570v6.4M825.42 571.2l4 4M825.42 575.2l4 -4M825.43 573.2h6.4M828.63 570v6.4M826.63 571.2l4 4M826.63 575.2l4 -4M826.65 573.2h6.4M829.85 570v6.4M827.85 571.2l4 4M827.85 575.2l4 -4M827.86 573.2h6.4M831.06 570v6.4M829.06 571.2l4 4M829.06 575.2l4 -4M829.08 573.2h6.4M832.28 570v6.4M830.28 571.2l4 4M830.28 575.2l4 -4M830.29 573.2h6.4M833.49 570v6.4M831.49 571.2l4 4M831.49 575.2l4 -4M831.51 573.2h6.4M834.71 570v6.4M832.71 571.2l4 4M832.71 575.2l4 -4M832.72 573.2h6.4M835.92 570v6.4M833.92 571.2l4 4M833.92 575.2l4 -4M833.94 573.2h6.4M837.14 570v6.4M835.14 571.2l4 4M835.14 575.2l4 -4M835.15 573.2h6.4M838.35 570v6.4M836.35 571.2l4 4M836.35 575.2l4 -4M836.37 573.2h6.4M839.57 570v6.4M837.57 571.2l4 4M837.57 575.2l4 -4M837.58 573.2h6.4M840.78 570v6.4M838.78 571.2l4 4M838.78 575.2l4 -4M838.8 573.2h6.4M842 570v6.4M840 571.2l4 4M840 575.2l4 -4M840.1 573.5h6.4M843.3 570.3v6.4M841.3 571.5l4 4M841.3 575.5l4 -4M841.4 574.2h6.4M844.6 571v6.4M842.6 572.2l4 4M842.6 576.2l4 -4M842.7 575h6.4M845.9 571.8v6.4M843.9 573l4 4M843.9 577l4 -4M843.8 575.6h6.4M847 572.4v6.4M845 573.6l4 4M845 577.6l4 -4" fill="none" stroke="#000" stroke-width="1.0"/>
<rect x="108.5" y="25.5" width="104.2" height="46.5" fill="#fff" stroke="#4a4a4a" stroke-width="1"/>
<path d="M123.1 37.8h6.4M126.3 34.6v6.4M124.3 35.8l4 4M124.3 39.8l4 -4" stroke="#222" stroke-width="0.8" fill="none"/>
<path d="M123 59.9a3.1 3.1 0 1 0 6.2 0a3.1 3.1 0 1 0 -6.2 0" stroke="#333" stroke-width="0.9" fill="none"/>
<text x="140.61" y="46.4" font-size="24" font-style="italic">k</text>
<text transform="translate(158.75 48.37) scale(1.38 1)" font-size="24">−</text>
<text x="183.67" y="46.6" font-size="25" font-style="italic">ω</text>
<text x="141.14" y="66.2" font-size="18.3">Inverse</text>
<text x="1.9" y="24" font-size="29.5">(<tspan font-style="italic">a</tspan><tspan dx="0.8">)</tspan></text>
<text x="454.4" y="24" font-size="29.5">(<tspan font-style="italic">b</tspan><tspan dx="0.6">)</tspan></text>
<text x="1.9" y="367.5" font-size="29.5">(<tspan font-style="italic">c</tspan><tspan dx="0.6">)</tspan></text>
<text x="454.1" y="367.2" font-size="29.5">(<tspan font-style="italic">d</tspan><tspan dx="2.0">)</tspan></text>
<text transform="translate(51.3 22.1) scale(0.955 1)" font-size="26">100</text>
<text transform="translate(63.72 132.5) scale(0.955 1)" font-size="26">50</text>
<text transform="translate(76.23 242.5) scale(0.955 1)" font-size="26">0</text>
<text transform="translate(503.7 22.1) scale(0.955 1)" font-size="26">100</text>
<text transform="translate(516.12 132.5) scale(0.955 1)" font-size="26">50</text>
<text transform="translate(528.53 242.5) scale(0.955 1)" font-size="26">0</text>
<text transform="translate(51.3 366.4) scale(0.955 1)" font-size="26">100</text>
<text transform="translate(63.82 476.8) scale(0.955 1)" font-size="26">50</text>
<text transform="translate(76.23 586.8) scale(0.955 1)" font-size="26">0</text>
<text transform="translate(515.22 367.9) scale(0.955 1)" font-size="26">80</text>
<text transform="translate(515.22 422.8) scale(0.955 1)" font-size="26">60</text>
<text transform="translate(515.22 476.8) scale(0.955 1)" font-size="26">40</text>
<text transform="translate(515.22 531.2) scale(0.955 1)" font-size="26">20</text>
<text transform="translate(527.63 586.3) scale(0.955 1)" font-size="26">0</text>
<text transform="translate(137.62 268.4) scale(0.955 1)" font-size="26">10</text>
<text transform="translate(162.32 259.81) scale(1.36 1)" font-size="16">−</text>
<text x="174.6" y="258.7" font-size="16">2</text>
<text transform="translate(199.12 268.4) scale(0.955 1)" font-size="26">10</text>
<text transform="translate(223.82 259.81) scale(1.36 1)" font-size="16">−</text>
<text x="236.69" y="258.7" font-size="16">1</text>
<text transform="translate(266.92 268.4) scale(0.955 1)" font-size="26">10</text>
<text x="290.64" y="258.7" font-size="16">0</text>
<text transform="translate(327.52 268.4) scale(0.955 1)" font-size="26">10</text>
<text x="351.24" y="258.7" font-size="16">1</text>
<text transform="translate(389.52 268.4) scale(0.955 1)" font-size="26">10</text>
<text x="413.24" y="258.7" font-size="16">2</text>
<text transform="translate(589.72 266.5) scale(0.955 1)" font-size="26">10</text>
<text transform="translate(614.42 257.91) scale(1.36 1)" font-size="16">−</text>
<text x="626.7" y="256.8" font-size="16">2</text>
<text transform="translate(650.82 266.5) scale(0.955 1)" font-size="26">10</text>
<text transform="translate(675.52 257.91) scale(1.36 1)" font-size="16">−</text>
<text x="688.39" y="256.8" font-size="16">1</text>
<text transform="translate(718.72 266.5) scale(0.955 1)" font-size="26">10</text>
<text x="742.44" y="256.8" font-size="16">0</text>
<text transform="translate(779.52 266.5) scale(0.955 1)" font-size="26">10</text>
<text x="803.24" y="256.8" font-size="16">1</text>
<text transform="translate(841.32 266.5) scale(0.955 1)" font-size="26">10</text>
<text x="865.04" y="256.8" font-size="16">2</text>
<text transform="translate(138.22 610.6) scale(0.955 1)" font-size="26">10</text>
<text transform="translate(162.92 602.01) scale(1.36 1)" font-size="16">−</text>
<text x="175.2" y="600.9" font-size="16">2</text>
<text transform="translate(199.62 610.6) scale(0.955 1)" font-size="26">10</text>
<text transform="translate(224.32 602.01) scale(1.36 1)" font-size="16">−</text>
<text x="237.19" y="600.9" font-size="16">1</text>
<text transform="translate(267.12 610.6) scale(0.955 1)" font-size="26">10</text>
<text x="290.84" y="600.9" font-size="16">0</text>
<text transform="translate(327.82 610.6) scale(0.955 1)" font-size="26">10</text>
<text x="351.54" y="600.9" font-size="16">1</text>
<text transform="translate(389.82 610.6) scale(0.955 1)" font-size="26">10</text>
<text x="413.54" y="600.9" font-size="16">2</text>
<text transform="translate(601.42 608.8) scale(0.955 1)" font-size="26">10</text>
<text transform="translate(626.12 600.21) scale(1.36 1)" font-size="16">−</text>
<text x="638.4" y="599.1" font-size="16">2</text>
<text transform="translate(662.62 608.8) scale(0.955 1)" font-size="26">10</text>
<text transform="translate(687.32 600.21) scale(1.36 1)" font-size="16">−</text>
<text x="700.19" y="599.1" font-size="16">1</text>
<text transform="translate(729.72 608.8) scale(0.955 1)" font-size="26">10</text>
<text x="753.44" y="599.1" font-size="16">0</text>
<text transform="translate(790.62 608.8) scale(0.955 1)" font-size="26">10</text>
<text x="814.34" y="599.1" font-size="16">1</text>
<text transform="translate(851.62 608.8) scale(0.955 1)" font-size="26">10</text>
<text x="875.34" y="599.1" font-size="16">2</text>
<text transform="translate(39.1 150.93) rotate(-90)" font-size="24.5" style="font-family:'DejaVu Serif', serif" font-style="italic">ν</text>
<text transform="translate(43.7 136.97) rotate(-90)" font-size="17.5" font-style="italic">t</text>
<text transform="translate(45 129.7) rotate(-90)" font-size="38">/</text>
<text transform="translate(39.1 117.03) rotate(-90)" font-size="24.5" style="font-family:'DejaVu Serif', serif" font-style="italic">ν</text>
<text transform="translate(39.1 494.73) rotate(-90)" font-size="24.5" style="font-family:'DejaVu Serif', serif" font-style="italic">ν</text>
<text transform="translate(43.7 480.77) rotate(-90)" font-size="17.5" font-style="italic">t</text>
<text transform="translate(45 473.5) rotate(-90)" font-size="38">/</text>
<text transform="translate(39.1 460.83) rotate(-90)" font-size="24.5" style="font-family:'DejaVu Serif', serif" font-style="italic">ν</text>
<text x="220.22" y="646.3" font-size="29" font-style="italic">y</text>
<text x="233.1" y="651.8" font-size="38.5">/</text>
<text transform="translate(244.24 646.6) scale(1.12 1)" font-size="28.5" font-style="italic">θ</text>
<text x="258.43" y="650.5" font-size="19" font-style="italic">r</text>
<text x="266.52" y="650.5" font-size="19" font-style="italic">e</text>
<text transform="translate(274.82 650.5) scale(1.3 1)" font-size="19" font-style="italic">f</text>
<text x="677.62" y="646.5" font-size="29" font-style="italic">y</text>
<text x="690.5" y="652" font-size="38.5">/</text>
<text transform="translate(701.64 646.8) scale(1.12 1)" font-size="28.5" font-style="italic">θ</text>
<text x="715.83" y="650.7" font-size="19" font-style="italic">r</text>
<text x="723.92" y="650.7" font-size="19" font-style="italic">e</text>
<text transform="translate(732.22 650.7) scale(1.3 1)" font-size="19" font-style="italic">f</text>
<text x="189.12" y="304.5" font-size="26" font-style="italic">x</text>
<text x="202" y="309.2" font-size="33">/</text>
<text x="212.35" y="304.5" font-size="26" font-style="italic">C</text>
<text transform="translate(232.99 307) scale(1.4 1)" font-size="26">=</text>
<text transform="translate(257.65 304.5) scale(0.955 1)" font-size="26">0.327</text>
<text x="658.82" y="304.4" font-size="26" font-style="italic">x</text>
<text x="671.7" y="309.1" font-size="33">/</text>
<text x="682.05" y="304.4" font-size="26" font-style="italic">C</text>
<text transform="translate(702.69 306.9) scale(1.4 1)" font-size="26">=</text>
<text transform="translate(727.35 304.4) scale(0.955 1)" font-size="26">0.5</text>
<text x="188.32" y="691.4" font-size="26" font-style="italic">x</text>
<text x="201.2" y="696.1" font-size="33">/</text>
<text x="211.55" y="691.4" font-size="26" font-style="italic">C</text>
<text transform="translate(232.19 693.9) scale(1.4 1)" font-size="26">=</text>
<text transform="translate(256.85 691.4) scale(0.955 1)" font-size="26">0.655</text>
<text x="668.72" y="691.8" font-size="26" font-style="italic">x</text>
<text x="681.6" y="696.5" font-size="33">/</text>
<text x="691.95" y="691.8" font-size="26" font-style="italic">C</text>
<text transform="translate(712.59 694.3) scale(1.4 1)" font-size="26">=</text>
<text transform="translate(736.02 691.8) scale(0.955 1)" font-size="26">1</text>
</svg>
</body></html>
